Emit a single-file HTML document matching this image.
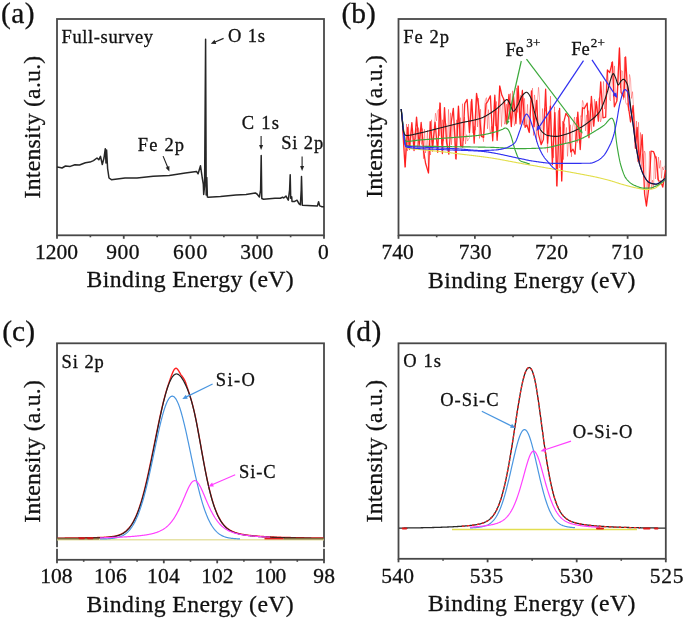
<!DOCTYPE html>
<html><head><meta charset="utf-8"><style>
html,body{margin:0;padding:0;background:#fff;}
svg{display:block;will-change:transform;}
text{font-family:"Liberation Serif",serif;fill:#111;stroke:#111;stroke-width:0.3px;}
</style></head><body>
<svg width="685" height="620" viewBox="0 0 685 620">
<rect width="685" height="620" fill="#fff"/>
<text x="0.90" y="23.1" font-size="29.5" textLength="33.59" lengthAdjust="spacing">(a)</text>
<text x="341.50" y="23.0" font-size="29.5" textLength="34.29" lengthAdjust="spacing">(b)</text>
<text x="2.20" y="340.9" font-size="29.5" textLength="32.89" lengthAdjust="spacing">(c)</text>
<text x="345.90" y="341.2" font-size="29.5" textLength="35.49" lengthAdjust="spacing">(d)</text>
<text x="86.62" y="287.3" font-size="23.7" textLength="207.12" lengthAdjust="spacing">Binding Energy (eV)</text>
<text x="427.92" y="287.5" font-size="23.7" textLength="207.42" lengthAdjust="spacing">Binding Energy (eV)</text>
<text x="86.62" y="612.0" font-size="23.7" textLength="207.12" lengthAdjust="spacing">Binding Energy (eV)</text>
<text x="427.92" y="611.3" font-size="23.7" textLength="207.42" lengthAdjust="spacing">Binding Energy (eV)</text>
<text x="0" y="0" font-size="23.7" textLength="142.70" lengthAdjust="spacing" transform="translate(40.2,198.46) rotate(-90)">Intensity (a.u.)</text>
<text x="0" y="0" font-size="23.7" textLength="142.70" lengthAdjust="spacing" transform="translate(381.6,197.86) rotate(-90)">Intensity (a.u.)</text>
<text x="0" y="0" font-size="23.7" textLength="142.70" lengthAdjust="spacing" transform="translate(40.2,522.76) rotate(-90)">Intensity (a.u.)</text>
<text x="0" y="0" font-size="23.7" textLength="142.50" lengthAdjust="spacing" transform="translate(381.6,522.46) rotate(-90)">Intensity (a.u.)</text>
<rect x="57" y="19" width="267" height="216.3" fill="none" stroke="#484848" stroke-width="1.8"/>
<line x1="57.0" y1="235.3" x2="57.0" y2="238.8" stroke="#484848" stroke-width="1.8"/>
<line x1="123.75" y1="235.3" x2="123.75" y2="238.8" stroke="#484848" stroke-width="1.8"/>
<line x1="190.5" y1="235.3" x2="190.5" y2="238.8" stroke="#484848" stroke-width="1.8"/>
<line x1="257.25" y1="235.3" x2="257.25" y2="238.8" stroke="#484848" stroke-width="1.8"/>
<line x1="324.0" y1="235.3" x2="324.0" y2="238.8" stroke="#484848" stroke-width="1.8"/>
<line x1="90.375" y1="235.3" x2="90.375" y2="237.3" stroke="#484848" stroke-width="1.62"/>
<line x1="157.125" y1="235.3" x2="157.125" y2="237.3" stroke="#484848" stroke-width="1.62"/>
<line x1="223.875" y1="235.3" x2="223.875" y2="237.3" stroke="#484848" stroke-width="1.62"/>
<line x1="290.625" y1="235.3" x2="290.625" y2="237.3" stroke="#484848" stroke-width="1.62"/>
<text x="34.91" y="259.0" font-size="21.5" textLength="43.11" lengthAdjust="spacing">1200</text>
<text x="106.21" y="259.0" font-size="21.5" textLength="33.41" lengthAdjust="spacing">900</text>
<text x="173.08" y="259.0" font-size="21.5" textLength="34.24" lengthAdjust="spacing">600</text>
<text x="240.27" y="259.0" font-size="21.5" textLength="33.05" lengthAdjust="spacing">300</text>
<text x="318.08" y="259.0" font-size="21.5" textLength="12.24" lengthAdjust="spacing">0</text>
<rect x="398.5" y="19" width="267.29999999999995" height="216.3" fill="none" stroke="#484848" stroke-width="1.8"/>
<line x1="398.5" y1="235.3" x2="398.5" y2="238.8" stroke="#484848" stroke-width="1.8"/>
<line x1="474.87142857142857" y1="235.3" x2="474.87142857142857" y2="238.8" stroke="#484848" stroke-width="1.8"/>
<line x1="551.2428571428571" y1="235.3" x2="551.2428571428571" y2="238.8" stroke="#484848" stroke-width="1.8"/>
<line x1="627.6142857142856" y1="235.3" x2="627.6142857142856" y2="238.8" stroke="#484848" stroke-width="1.8"/>
<line x1="436.68571428571425" y1="235.3" x2="436.68571428571425" y2="237.3" stroke="#484848" stroke-width="1.62"/>
<line x1="513.0571428571428" y1="235.3" x2="513.0571428571428" y2="237.3" stroke="#484848" stroke-width="1.62"/>
<line x1="589.4285714285713" y1="235.3" x2="589.4285714285713" y2="237.3" stroke="#484848" stroke-width="1.62"/>
<text x="381.58" y="259.0" font-size="21.5" textLength="32.14" lengthAdjust="spacing">740</text>
<text x="458.68" y="259.0" font-size="21.5" textLength="32.94" lengthAdjust="spacing">730</text>
<text x="535.08" y="259.0" font-size="21.5" textLength="33.04" lengthAdjust="spacing">720</text>
<text x="611.28" y="259.0" font-size="21.5" textLength="32.14" lengthAdjust="spacing">710</text>
<rect x="57" y="343.3" width="267" height="216.49999999999994" fill="none" stroke="#484848" stroke-width="1.8"/>
<line x1="57.0" y1="559.8" x2="57.0" y2="563.3" stroke="#484848" stroke-width="1.8"/>
<line x1="110.4" y1="559.8" x2="110.4" y2="563.3" stroke="#484848" stroke-width="1.8"/>
<line x1="163.8" y1="559.8" x2="163.8" y2="563.3" stroke="#484848" stroke-width="1.8"/>
<line x1="217.2" y1="559.8" x2="217.2" y2="563.3" stroke="#484848" stroke-width="1.8"/>
<line x1="270.6" y1="559.8" x2="270.6" y2="563.3" stroke="#484848" stroke-width="1.8"/>
<line x1="324.0" y1="559.8" x2="324.0" y2="563.3" stroke="#484848" stroke-width="1.8"/>
<line x1="83.7" y1="559.8" x2="83.7" y2="561.8" stroke="#484848" stroke-width="1.62"/>
<line x1="137.1" y1="559.8" x2="137.1" y2="561.8" stroke="#484848" stroke-width="1.62"/>
<line x1="190.5" y1="559.8" x2="190.5" y2="561.8" stroke="#484848" stroke-width="1.62"/>
<line x1="243.89999999999998" y1="559.8" x2="243.89999999999998" y2="561.8" stroke="#484848" stroke-width="1.62"/>
<line x1="297.3" y1="559.8" x2="297.3" y2="561.8" stroke="#484848" stroke-width="1.62"/>
<text x="40.31" y="583.2" font-size="21.5" textLength="32.21" lengthAdjust="spacing">108</text>
<text x="93.91" y="583.2" font-size="21.5" textLength="32.73" lengthAdjust="spacing">106</text>
<text x="147.01" y="583.2" font-size="21.5" textLength="32.73" lengthAdjust="spacing">104</text>
<text x="201.31" y="583.2" font-size="21.5" textLength="32.28" lengthAdjust="spacing">102</text>
<text x="254.81" y="583.2" font-size="21.5" textLength="31.51" lengthAdjust="spacing">100</text>
<text x="313.21" y="583.2" font-size="21.5" textLength="21.81" lengthAdjust="spacing">98</text>
<rect x="398.5" y="343.3" width="267.29999999999995" height="215.49999999999994" fill="none" stroke="#484848" stroke-width="1.8"/>
<line x1="398.5" y1="558.8" x2="398.5" y2="562.3" stroke="#484848" stroke-width="1.8"/>
<line x1="487.59999999999997" y1="558.8" x2="487.59999999999997" y2="562.3" stroke="#484848" stroke-width="1.8"/>
<line x1="576.6999999999999" y1="558.8" x2="576.6999999999999" y2="562.3" stroke="#484848" stroke-width="1.8"/>
<line x1="665.8" y1="558.8" x2="665.8" y2="562.3" stroke="#484848" stroke-width="1.8"/>
<line x1="443.05" y1="558.8" x2="443.05" y2="560.8" stroke="#484848" stroke-width="1.62"/>
<line x1="532.15" y1="558.8" x2="532.15" y2="560.8" stroke="#484848" stroke-width="1.62"/>
<line x1="621.25" y1="558.8" x2="621.25" y2="560.8" stroke="#484848" stroke-width="1.62"/>
<text x="381.25" y="582.5" font-size="21.5" textLength="32.77" lengthAdjust="spacing">540</text>
<text x="469.65" y="582.5" font-size="21.5" textLength="33.49" lengthAdjust="spacing">535</text>
<text x="559.65" y="582.5" font-size="21.5" textLength="33.27" lengthAdjust="spacing">530</text>
<text x="649.65" y="582.5" font-size="21.5" textLength="33.79" lengthAdjust="spacing">525</text>
<polyline points="57.00,167.10 60.00,167.50 62.00,168.00 65.50,166.00 70.20,166.40 74.90,164.80 79.50,165.00 85.40,162.70 90.00,162.10 93.50,160.60 97.00,158.00 98.80,159.80 100.50,156.30 102.30,164.50 104.00,158.00 105.30,148.70 106.00,163.00 106.60,150.00 107.60,168.50 109.00,178.00 111.40,179.70 125.00,178.00 137.00,178.10 153.20,176.20 169.20,175.40 185.30,173.00 196.50,171.40 198.10,173.80 200.50,165.80 202.20,177.50 203.30,184.00 203.70,194.50 204.60,186.00 205.60,39.30 206.20,195.00 206.80,177.60 207.40,197.00 208.30,197.20 220.50,196.50 235.90,195.00 246.00,194.50 255.30,192.90 257.00,194.00 259.40,197.00 260.60,190.00 261.20,155.60 261.80,198.50 263.50,199.30 275.00,198.30 280.30,198.30 282.60,197.20 283.70,198.00 286.00,196.10 288.30,200.20 289.60,190.00 290.20,174.80 290.70,198.30 291.70,196.80 292.00,201.40 294.70,201.40 297.00,200.20 299.20,204.00 300.40,204.80 301.20,190.00 301.50,176.40 302.30,205.20 317.40,205.90 318.60,201.70 319.70,205.90 322.00,206.70 324.00,206.70" fill="none" stroke="#262626" stroke-width="1.5" stroke-linejoin="round"/>
<text x="61.57" y="43.3" font-size="18.5" textLength="91.41" lengthAdjust="spacing">Full-survey</text>
<text x="228.04" y="41.5" font-size="18.5" textLength="36.93" lengthAdjust="spacing">O 1s</text>
<line x1="223.6" y1="38.4" x2="214.49" y2="42.25" stroke="#222" stroke-width="1.2"/>
<polygon points="210.80,43.80 214.55,39.83 216.26,43.88" fill="#222"/>
<text x="137.77" y="150.5" font-size="18.5" textLength="46.26" lengthAdjust="spacing">Fe 2p</text>
<line x1="163.1" y1="156.1" x2="167.89" y2="167.80" stroke="#222" stroke-width="1.1"/>
<polygon points="169.40,171.50 165.66,167.63 169.36,166.11" fill="#222"/>
<text x="241.64" y="129.2" font-size="18.5" textLength="37.43" lengthAdjust="spacing">C 1s</text>
<line x1="261.1" y1="136.1" x2="261.10" y2="146.00" stroke="#222" stroke-width="1.1"/>
<polygon points="261.10,150.00 259.10,145.00 263.10,145.00" fill="#222"/>
<text x="281.16" y="148.5" font-size="18.5" textLength="42.06" lengthAdjust="spacing">Si 2p</text>
<line x1="302.1" y1="156.5" x2="302.10" y2="167.00" stroke="#222" stroke-width="1.1"/>
<polygon points="302.10,171.00 300.10,166.00 304.10,166.00" fill="#222"/>
<g fill="none" stroke-linejoin="round">
<polyline points="401.50,109.00 402.50,125.00 403.50,135.47 404.50,133.80 405.50,167.00 406.50,123.97 407.50,151.05 408.50,124.04 409.50,150.11 410.50,146.59 411.50,129.73 412.50,128.35 413.50,148.01 414.50,139.40 415.50,139.07 416.50,128.55 417.50,148.18 418.50,127.64 419.50,143.91 420.50,129.19 421.50,144.57 422.50,128.51 423.50,158.74 424.50,129.24 425.50,153.00 426.50,145.98 427.50,130.24 428.50,173.00 429.50,143.02 430.50,155.04 431.50,119.74 432.50,151.89 433.50,139.67 434.50,123.35 435.50,113.19 436.50,120.89 437.50,111.04 438.50,109.33 439.50,135.90 440.50,103.00 441.50,144.40 442.50,119.76 443.50,141.13 444.50,120.40 445.50,122.71 446.50,125.49 447.50,148.78 448.50,109.37 449.50,138.22 450.50,112.77 451.50,144.79 452.50,125.34 453.50,124.35 454.50,142.48 455.50,159.00 456.50,119.77 457.50,136.48 458.50,106.37 459.50,138.24 460.50,117.64 461.50,146.25 462.50,103.71 463.50,141.11 464.50,117.09 465.50,143.94 466.50,134.69 467.50,141.04 468.50,139.32 469.50,137.54 470.50,101.96 471.50,100.39 472.50,132.84 473.50,132.98 474.50,126.29 475.50,130.22 476.50,95.71 477.50,126.99 478.50,98.14 479.50,138.46 480.50,109.20 481.50,137.20 482.50,134.72 483.50,141.72 484.50,106.49 485.50,99.35 486.50,97.66 487.50,128.84 488.50,109.63 489.50,128.50 490.50,133.56 491.50,126.28 492.50,137.55 493.50,126.30 494.50,97.24 495.50,126.18 496.50,101.48 497.50,137.21 498.50,128.48 499.50,86.00 500.50,102.58 501.50,126.70 502.50,106.39 503.50,98.97 504.50,124.20 505.50,121.02 506.50,104.18 507.50,120.35 508.50,102.17 509.50,119.35 510.50,93.44 511.50,127.18 512.50,90.78 513.50,118.13 514.50,125.60 515.50,119.68 516.50,87.90 517.50,112.41 518.50,86.00 519.50,118.22 520.50,95.32 521.50,122.49 522.50,89.70 523.50,125.34 524.50,98.32 525.50,118.84 526.50,123.98 527.50,104.33 528.50,131.37 529.50,127.92 530.50,100.17 531.50,95.97 532.50,88.14 533.50,135.51 534.50,94.90 535.50,104.12 536.50,141.86 537.50,100.53 538.50,87.32 539.50,97.76 540.50,136.74 541.50,143.60 542.50,108.52 543.50,130.17 544.50,108.23 545.50,111.28 546.50,107.00 547.50,152.54 548.50,111.59 549.50,135.77 550.50,96.06 551.50,148.28 552.50,149.70 553.50,157.81 554.50,106.81 555.50,149.64 556.50,186.00 557.50,122.54 558.50,110.40 559.50,168.05 560.50,126.91 561.50,181.00 562.50,121.11 563.50,159.58 564.50,123.65 565.50,144.02 566.50,127.44 567.50,156.37 568.50,142.16 569.50,143.85 570.50,124.75 571.50,156.85 572.50,127.17 573.50,123.50 574.50,117.02 575.50,141.05 576.50,117.06 577.50,142.52 578.50,123.06 579.50,143.32 580.50,115.74 581.50,116.53 582.50,100.39 583.50,103.04 584.50,110.27 585.50,130.88 586.50,114.85 587.50,135.86 588.50,110.62 589.50,129.77 590.50,103.72 591.50,131.74 592.50,109.31 593.50,120.15 594.50,99.17 595.50,117.54 596.50,101.10 597.50,113.92 598.50,99.34 599.50,97.37 600.50,121.96 601.50,118.58 602.50,107.81 603.50,81.39 604.50,109.08 605.50,100.92 606.50,80.94 607.50,70.00 608.50,82.85 609.50,99.56 610.50,100.76 611.50,62.00 612.50,65.59 613.50,97.12 614.50,65.92 615.50,96.57 616.50,100.52 617.50,96.19 618.50,65.21 619.50,48.00 620.50,87.95 621.50,70.60 622.50,71.21 623.50,99.58 624.50,57.00 625.50,101.94 626.50,104.29 627.50,103.45 628.50,110.89 629.50,74.48 630.50,79.09 631.50,98.48 632.50,91.67 633.50,106.55 634.50,116.83 635.50,142.67 636.50,121.07 637.50,161.73 638.50,122.25 639.50,163.03 640.50,132.46 641.50,170.74 642.50,153.62 643.50,177.24 644.50,150.93 645.50,153.74 646.50,206.00 647.50,180.55 648.50,190.84 649.50,151.23 650.50,165.61 651.50,189.26 652.50,180.13 653.50,188.77 654.50,153.15 655.50,178.90 656.50,156.35 657.50,179.76 658.50,157.00 659.50,168.30 660.50,160.40 661.50,178.33 662.50,166.91 663.50,170.03 664.50,165.81" stroke="#ff1010" stroke-width="1.0" opacity="0.35"/>
<polyline points="402.54,126.31 405.03,167.00 407.68,127.52 409.42,148.89 411.86,122.67 414.04,150.56 416.54,117.15 419.13,145.84 421.15,122.51 423.67,151.18 425.56,163.26 428.49,173.00 430.21,121.65 432.54,147.56 435.10,122.20 437.69,152.28 439.91,103.00 442.38,153.48 444.51,107.56 446.51,142.13 448.83,154.21 451.37,121.05 453.32,108.34 456.08,159.00 458.43,106.07 460.61,145.67 462.71,147.05 464.73,103.61 467.14,99.45 469.43,132.45 471.76,99.36 474.17,143.12 476.54,93.36 478.57,105.57 481.34,136.17 483.58,137.39 485.98,103.95 487.81,101.29 490.39,95.83 492.72,140.73 494.81,95.27 497.13,140.29 499.75,86.00 501.88,95.32 504.42,100.50 506.39,123.85 508.96,94.48 511.29,126.45 513.53,96.41 515.91,123.51 518.06,86.00 520.16,124.05 522.34,90.74 525.06,127.31 526.81,124.79 529.32,132.48 531.48,90.88 534.07,126.65 536.61,100.50 538.46,134.04 541.14,144.66 543.44,139.49 545.63,89.26 547.60,143.12 550.36,106.27 552.37,164.67 554.89,112.63 556.97,186.00 559.59,108.30 561.76,181.00 563.63,122.55 565.94,113.32 568.78,117.34 570.69,151.96 573.00,149.26 575.03,154.20 577.81,112.14 580.24,149.56 582.62,107.74 584.36,108.48 587.19,103.06 588.94,137.69 591.40,96.39 593.71,126.14 596.16,101.73 598.41,121.17 600.72,81.91 603.02,117.77 605.65,117.11 607.40,70.00 609.67,72.57 612.45,62.00 614.34,106.84 616.94,100.73 619.44,48.00 621.06,92.32 623.93,97.22 625.63,57.00 628.31,105.41 630.55,121.90 633.05,105.65 635.42,148.30 637.14,127.37 639.46,163.61 642.18,134.74 644.57,193.99 646.42,206.00 649.09,186.15 651.02,151.12 653.57,151.68 656.28,159.39 658.47,180.94 660.65,181.18 662.77,187.07 665.43,170.00" stroke="#ff1010" stroke-width="1.3" opacity="0.9"/>
<polyline points="401.20,109.00 401.70,113.67 402.20,118.19 402.70,122.56 403.20,126.76 403.70,130.82 404.20,135.38 404.70,140.13 405.20,144.25 405.70,146.93 406.20,147.57 406.70,147.74 407.20,147.89 407.70,148.04 408.20,148.16 408.70,148.28 409.20,148.39 409.70,148.49 410.20,148.57 410.70,148.65 411.20,148.72 411.70,148.79 412.20,148.84 412.70,148.90 413.20,148.94 413.70,148.99 414.20,149.03 414.70,149.07 415.20,149.10 415.70,149.14 416.20,149.17 416.70,149.21 417.20,149.24 417.70,149.28 418.20,149.32 418.70,149.36 419.20,149.41 419.70,149.47 420.20,149.52 420.70,149.58 421.20,149.64 421.70,149.70 422.20,149.75 422.70,149.80 423.20,149.86 423.70,149.91 424.20,149.96 424.70,150.01 425.20,150.06 425.70,150.11 426.20,150.16 426.70,150.21 427.20,150.26 427.70,150.30 428.20,150.35 428.70,150.40 429.20,150.45 429.70,150.49 430.20,150.54 430.70,150.58 431.20,150.63 431.70,150.68 432.20,150.72 432.70,150.77 433.20,150.82 433.70,150.86 434.20,150.91 434.70,150.96 435.20,151.01 435.70,151.05 436.20,151.10 436.70,151.15 437.20,151.20 437.70,151.25 438.20,151.31 438.70,151.36 439.20,151.41 439.70,151.47 440.20,151.52 440.70,151.58 441.20,151.64 441.70,151.69 442.20,151.75 442.70,151.81 443.20,151.87 443.70,151.93 444.20,151.99 444.70,152.05 445.20,152.11 445.70,152.17 446.20,152.23 446.70,152.30 447.20,152.36 447.70,152.42 448.20,152.48 448.70,152.55 449.20,152.61 449.70,152.67 450.20,152.74 450.70,152.80 451.20,152.87 451.70,152.93 452.20,153.00 452.70,153.06 453.20,153.13 453.70,153.19 454.20,153.26 454.70,153.32 455.20,153.39 455.70,153.45 456.20,153.51 456.70,153.58 457.20,153.64 457.70,153.71 458.20,153.77 458.70,153.84 459.20,153.90 459.70,153.96 460.20,154.03 460.70,154.09 461.20,154.15 461.70,154.21 462.20,154.27 462.70,154.34 463.20,154.40 463.70,154.46 464.20,154.52 464.70,154.58 465.20,154.64 465.70,154.70 466.20,154.76 466.70,154.82 467.20,154.88 467.70,154.94 468.20,155.00 468.70,155.06 469.20,155.12 469.70,155.18 470.20,155.24 470.70,155.30 471.20,155.36 471.70,155.42 472.20,155.48 472.70,155.54 473.20,155.60 473.70,155.66 474.20,155.72 474.70,155.78 475.20,155.84 475.70,155.90 476.20,155.96 476.70,156.02 477.20,156.08 477.70,156.15 478.20,156.21 478.70,156.27 479.20,156.33 479.70,156.40 480.20,156.46 480.70,156.52 481.20,156.59 481.70,156.65 482.20,156.72 482.70,156.78 483.20,156.85 483.70,156.91 484.20,156.98 484.70,157.05 485.20,157.12 485.70,157.19 486.20,157.25 486.70,157.32 487.20,157.39 487.70,157.47 488.20,157.54 488.70,157.61 489.20,157.68 489.70,157.76 490.20,157.83 490.70,157.91 491.20,157.98 491.70,158.06 492.20,158.14 492.70,158.22 493.20,158.30 493.70,158.38 494.20,158.46 494.70,158.54 495.20,158.63 495.70,158.71 496.20,158.79 496.70,158.88 497.20,158.97 497.70,159.05 498.20,159.14 498.70,159.23 499.20,159.32 499.70,159.41 500.20,159.50 500.70,159.59 501.20,159.68 501.70,159.77 502.20,159.86 502.70,159.96 503.20,160.05 503.70,160.14 504.20,160.24 504.70,160.33 505.20,160.42 505.70,160.52 506.20,160.61 506.70,160.71 507.20,160.80 507.70,160.90 508.20,160.99 508.70,161.09 509.20,161.18 509.70,161.28 510.20,161.37 510.70,161.47 511.20,161.56 511.70,161.66 512.20,161.75 512.70,161.85 513.20,161.94 513.70,162.04 514.20,162.13 514.70,162.23 515.20,162.32 515.70,162.41 516.20,162.51 516.70,162.60 517.20,162.69 517.70,162.78 518.20,162.87 518.70,162.97 519.20,163.06 519.70,163.15 520.20,163.24 520.70,163.33 521.20,163.41 521.70,163.50 522.20,163.59 522.70,163.68 523.20,163.77 523.70,163.86 524.20,163.95 524.70,164.04 525.20,164.13 525.70,164.22 526.20,164.30 526.70,164.39 527.20,164.48 527.70,164.57 528.20,164.66 528.70,164.75 529.20,164.84 529.70,164.92 530.20,165.01 530.70,165.10 531.20,165.19 531.70,165.28 532.20,165.37 532.70,165.46 533.20,165.54 533.70,165.63 534.20,165.72 534.70,165.81 535.20,165.90 535.70,165.99 536.20,166.07 536.70,166.16 537.20,166.25 537.70,166.34 538.20,166.43 538.70,166.52 539.20,166.60 539.70,166.69 540.20,166.78 540.70,166.87 541.20,166.96 541.70,167.05 542.20,167.14 542.70,167.22 543.20,167.31 543.70,167.40 544.20,167.49 544.70,167.58 545.20,167.67 545.70,167.76 546.20,167.85 546.70,167.93 547.20,168.02 547.70,168.11 548.20,168.20 548.70,168.29 549.20,168.38 549.70,168.47 550.20,168.56 550.70,168.65 551.20,168.74 551.70,168.83 552.20,168.92 552.70,169.01 553.20,169.10 553.70,169.19 554.20,169.28 554.70,169.37 555.20,169.46 555.70,169.55 556.20,169.64 556.70,169.73 557.20,169.82 557.70,169.91 558.20,170.00 558.70,170.09 559.20,170.18 559.70,170.27 560.20,170.36 560.70,170.45 561.20,170.54 561.70,170.63 562.20,170.72 562.70,170.81 563.20,170.90 563.70,170.99 564.20,171.08 564.70,171.17 565.20,171.26 565.70,171.35 566.20,171.44 566.70,171.53 567.20,171.62 567.70,171.71 568.20,171.80 568.70,171.89 569.20,171.98 569.70,172.07 570.20,172.16 570.70,172.25 571.20,172.34 571.70,172.43 572.20,172.52 572.70,172.61 573.20,172.71 573.70,172.80 574.20,172.89 574.70,172.98 575.20,173.07 575.70,173.16 576.20,173.26 576.70,173.35 577.20,173.44 577.70,173.53 578.20,173.63 578.70,173.72 579.20,173.81 579.70,173.91 580.20,174.00 580.70,174.09 581.20,174.19 581.70,174.28 582.20,174.38 582.70,174.47 583.20,174.56 583.70,174.66 584.20,174.75 584.70,174.85 585.20,174.95 585.70,175.04 586.20,175.14 586.70,175.23 587.20,175.33 587.70,175.43 588.20,175.52 588.70,175.62 589.20,175.72 589.70,175.81 590.20,175.91 590.70,176.01 591.20,176.10 591.70,176.20 592.20,176.30 592.70,176.40 593.20,176.51 593.70,176.61 594.20,176.71 594.70,176.82 595.20,176.93 595.70,177.03 596.20,177.14 596.70,177.26 597.20,177.37 597.70,177.48 598.20,177.59 598.70,177.71 599.20,177.83 599.70,177.94 600.20,178.06 600.70,178.18 601.20,178.30 601.70,178.42 602.20,178.55 602.70,178.67 603.20,178.79 603.70,178.92 604.20,179.05 604.70,179.17 605.20,179.30 605.70,179.43 606.20,179.56 606.70,179.69 607.20,179.83 607.70,179.96 608.20,180.09 608.70,180.23 609.20,180.36 609.70,180.50 610.20,180.64 610.70,180.78 611.20,180.93 611.70,181.07 612.20,181.22 612.70,181.38 613.20,181.53 613.70,181.69 614.20,181.85 614.70,182.01 615.20,182.17 615.70,182.33 616.20,182.49 616.70,182.65 617.20,182.81 617.70,182.97 618.20,183.13 618.70,183.29 619.20,183.45 619.70,183.61 620.20,183.76 620.70,183.91 621.20,184.07 621.70,184.21 622.20,184.36 622.70,184.50 623.20,184.64 623.70,184.78 624.20,184.92 624.70,185.06 625.20,185.19 625.70,185.33 626.20,185.47 626.70,185.60 627.20,185.74 627.70,185.87 628.20,186.01 628.70,186.14 629.20,186.27 629.70,186.40 630.20,186.53 630.70,186.66 631.20,186.79 631.70,186.91 632.20,187.03 632.70,187.15 633.20,187.27 633.70,187.39 634.20,187.50 634.70,187.61 635.20,187.72 635.70,187.82 636.20,187.92 636.70,188.02 637.20,188.12 637.70,188.22 638.20,188.32 638.70,188.42 639.20,188.53 639.70,188.64 640.20,188.74 640.70,188.84 641.20,188.94 641.70,189.04 642.20,189.13 642.70,189.21 643.20,189.29 643.70,189.35 644.20,189.41 644.70,189.45 645.20,189.48 645.70,189.50 646.20,189.50 646.70,189.49 647.20,189.47 647.70,189.45 648.20,189.41 648.70,189.37 649.20,189.32 649.70,189.26 650.20,189.19 650.70,189.12 651.20,189.04 651.70,188.95 652.20,188.86 652.70,188.77 653.20,188.67 653.70,188.56 654.20,188.45 654.70,188.29 655.20,188.08 655.70,187.82 656.20,187.52 656.70,187.18 657.20,186.81 657.70,186.43 658.20,186.02 658.70,185.60 659.20,185.18 659.70,184.75 660.20,184.33 660.70,183.88 661.20,183.41 661.70,182.90 662.20,182.37 662.70,181.81 663.20,181.23 663.70,180.64 664.20,180.02 664.70,179.39" stroke="#e2de48" stroke-width="1.1"/>
<polyline points="401.20,109.00 401.70,113.39 402.20,117.96 402.70,122.54 403.20,126.97 403.70,131.09 404.20,134.73 404.70,137.74 405.20,139.94 405.70,141.19 406.20,141.40 406.70,141.39 407.20,141.38 407.70,141.36 408.20,141.33 408.70,141.30 409.20,141.26 409.70,141.22 410.20,141.17 410.70,141.12 411.20,141.07 411.70,141.01 412.20,140.95 412.70,140.89 413.20,140.83 413.70,140.76 414.20,140.69 414.70,140.63 415.20,140.56 415.70,140.49 416.20,140.43 416.70,140.36 417.20,140.30 417.70,140.24 418.20,140.18 418.70,140.13 419.20,140.07 419.70,140.03 420.20,139.98 420.70,139.94 421.20,139.90 421.70,139.86 422.20,139.82 422.70,139.77 423.20,139.73 423.70,139.69 424.20,139.66 424.70,139.62 425.20,139.58 425.70,139.54 426.20,139.50 426.70,139.46 427.20,139.43 427.70,139.39 428.20,139.35 428.70,139.32 429.20,139.28 429.70,139.24 430.20,139.21 430.70,139.17 431.20,139.14 431.70,139.10 432.20,139.06 432.70,139.03 433.20,138.99 433.70,138.96 434.20,138.92 434.70,138.89 435.20,138.85 435.70,138.81 436.20,138.78 436.70,138.74 437.20,138.71 437.70,138.67 438.20,138.63 438.70,138.60 439.20,138.56 439.70,138.52 440.20,138.49 440.70,138.45 441.20,138.41 441.70,138.37 442.20,138.34 442.70,138.30 443.20,138.26 443.70,138.23 444.20,138.19 444.70,138.15 445.20,138.12 445.70,138.08 446.20,138.04 446.70,138.01 447.20,137.97 447.70,137.93 448.20,137.90 448.70,137.86 449.20,137.83 449.70,137.79 450.20,137.75 450.70,137.72 451.20,137.68 451.70,137.64 452.20,137.60 452.70,137.57 453.20,137.53 453.70,137.49 454.20,137.45 454.70,137.42 455.20,137.38 455.70,137.34 456.20,137.30 456.70,137.26 457.20,137.22 457.70,137.18 458.20,137.15 458.70,137.11 459.20,137.07 459.70,137.02 460.20,136.98 460.70,136.94 461.20,136.90 461.70,136.86 462.20,136.82 462.70,136.79 463.20,136.75 463.70,136.71 464.20,136.67 464.70,136.63 465.20,136.59 465.70,136.56 466.20,136.52 466.70,136.48 467.20,136.44 467.70,136.40 468.20,136.36 468.70,136.32 469.20,136.28 469.70,136.24 470.20,136.20 470.70,136.16 471.20,136.12 471.70,136.07 472.20,136.03 472.70,135.99 473.20,135.94 473.70,135.89 474.20,135.85 474.70,135.80 475.20,135.75 475.70,135.70 476.20,135.64 476.70,135.59 477.20,135.54 477.70,135.48 478.20,135.42 478.70,135.36 479.20,135.30 479.70,135.24 480.20,135.17 480.70,135.11 481.20,135.04 481.70,134.96 482.20,134.88 482.70,134.80 483.20,134.72 483.70,134.63 484.20,134.54 484.70,134.45 485.20,134.35 485.70,134.25 486.20,134.15 486.70,134.05 487.20,133.94 487.70,133.83 488.20,133.72 488.70,133.61 489.20,133.49 489.70,133.37 490.20,133.25 490.70,133.13 491.20,133.00 491.70,132.88 492.20,132.75 492.70,132.62 493.20,132.49 493.70,132.35 494.20,132.22 494.70,132.08 495.20,131.94 495.70,131.80 496.20,131.64 496.70,131.48 497.20,131.32 497.70,131.14 498.20,130.96 498.70,130.78 499.20,130.59 499.70,130.40 500.20,130.21 500.70,130.01 501.20,129.82 501.70,129.62 502.20,129.42 502.70,129.17 503.20,128.89 503.70,128.61 504.20,128.35 504.70,128.14 505.20,128.02 505.70,128.01 506.20,128.16 506.70,128.43 507.20,128.80 507.70,129.23 508.20,129.71 508.70,130.45 509.20,131.43 509.70,132.59 510.20,133.87 510.70,135.20 511.20,136.55 511.70,138.09 512.20,139.83 512.70,141.69 513.20,143.59 513.70,145.47 514.20,147.24 514.70,148.85 515.20,150.24 515.70,151.60 516.20,152.97 516.70,154.32 517.20,155.62 517.70,156.83 518.20,157.93 518.70,158.88 519.20,159.67 519.70,160.26 520.20,160.63 520.70,160.93 521.20,161.19 521.70,161.41 522.20,161.62 522.70,161.80 523.20,161.96 523.70,162.11 524.20,162.26 524.70,162.40 525.20,162.55 525.70,162.70 526.20,162.87 526.70,163.03 527.20,163.19 527.70,163.34 528.20,163.49 528.70,163.64 529.20,163.78 529.70,163.92" stroke="#3aa83a" stroke-width="1.15"/>
<polyline points="401.20,109.00 401.70,113.56 402.20,118.49 402.70,123.58 403.20,128.62 403.70,133.39 404.20,137.67 404.70,141.24 405.20,143.90 405.70,145.42 406.20,145.71 406.70,145.74 407.20,145.77 407.70,145.80 408.20,145.83 408.70,145.85 409.20,145.88 409.70,145.90 410.20,145.93 410.70,145.95 411.20,145.97 411.70,145.99 412.20,146.01 412.70,146.03 413.20,146.05 413.70,146.07 414.20,146.08 414.70,146.10 415.20,146.11 415.70,146.13 416.20,146.14 416.70,146.16 417.20,146.17 417.70,146.18 418.20,146.19 418.70,146.21 419.20,146.22 419.70,146.23 420.20,146.24 420.70,146.25 421.20,146.25 421.70,146.26 422.20,146.27 422.70,146.28 423.20,146.29 423.70,146.29 424.20,146.30 424.70,146.31 425.20,146.31 425.70,146.32 426.20,146.33 426.70,146.33 427.20,146.34 427.70,146.34 428.20,146.35 428.70,146.35 429.20,146.36 429.70,146.36 430.20,146.37 430.70,146.37 431.20,146.38 431.70,146.38 432.20,146.39 432.70,146.40 433.20,146.40 433.70,146.41 434.20,146.41 434.70,146.42 435.20,146.42 435.70,146.43 436.20,146.44 436.70,146.45 437.20,146.45 437.70,146.46 438.20,146.47 438.70,146.48 439.20,146.49 439.70,146.49 440.20,146.50 440.70,146.51 441.20,146.52 441.70,146.53 442.20,146.54 442.70,146.55 443.20,146.56 443.70,146.57 444.20,146.58 444.70,146.58 445.20,146.59 445.70,146.60 446.20,146.61 446.70,146.62 447.20,146.63 447.70,146.63 448.20,146.64 448.70,146.65 449.20,146.66 449.70,146.66 450.20,146.67 450.70,146.68 451.20,146.69 451.70,146.69 452.20,146.70 452.70,146.71 453.20,146.71 453.70,146.72 454.20,146.73 454.70,146.73 455.20,146.74 455.70,146.75 456.20,146.75 456.70,146.76 457.20,146.77 457.70,146.77 458.20,146.78 458.70,146.79 459.20,146.79 459.70,146.80 460.20,146.81 460.70,146.81 461.20,146.82 461.70,146.83 462.20,146.83 462.70,146.84 463.20,146.85 463.70,146.85 464.20,146.86 464.70,146.86 465.20,146.87 465.70,146.88 466.20,146.88 466.70,146.89 467.20,146.90 467.70,146.90 468.20,146.91 468.70,146.92 469.20,146.92 469.70,146.93 470.20,146.94 470.70,146.95 471.20,146.95 471.70,146.96 472.20,146.97 472.70,146.97 473.20,146.98 473.70,146.99 474.20,147.00 474.70,147.00 475.20,147.01 475.70,147.02 476.20,147.03 476.70,147.04 477.20,147.04 477.70,147.05 478.20,147.06 478.70,147.07 479.20,147.08 479.70,147.09 480.20,147.10 480.70,147.10 481.20,147.11 481.70,147.12 482.20,147.13 482.70,147.14 483.20,147.15 483.70,147.16 484.20,147.17 484.70,147.18 485.20,147.19 485.70,147.20 486.20,147.21 486.70,147.22 487.20,147.23 487.70,147.25 488.20,147.26 488.70,147.27 489.20,147.28 489.70,147.29 490.20,147.30 490.70,147.32 491.20,147.33 491.70,147.35 492.20,147.37 492.70,147.38 493.20,147.40 493.70,147.42 494.20,147.44 494.70,147.47 495.20,147.49 495.70,147.51 496.20,147.54 496.70,147.56 497.20,147.59 497.70,147.62 498.20,147.64 498.70,147.67 499.20,147.70 499.70,147.73 500.20,147.76 500.70,147.79 501.20,147.82 501.70,147.84 502.20,147.87 502.70,147.90 503.20,147.93 503.70,147.96 504.20,147.99 504.70,148.02 505.20,148.05 505.70,148.08 506.20,148.11 506.70,148.14 507.20,148.17 507.70,148.20 508.20,148.22 508.70,148.25 509.20,148.28 509.70,148.30 510.20,148.33 510.70,148.35 511.20,148.37 511.70,148.40 512.20,148.42 512.70,148.44 513.20,148.46 513.70,148.48 514.20,148.49 514.70,148.51 515.20,148.53 515.70,148.54 516.20,148.55 516.70,148.56 517.20,148.57 517.70,148.58 518.20,148.59 518.70,148.59 519.20,148.60 519.70,148.60 520.20,148.60 520.70,148.60 521.20,148.60 521.70,148.60 522.20,148.59 522.70,148.59 523.20,148.59 523.70,148.58 524.20,148.58 524.70,148.57 525.20,148.57 525.70,148.56 526.20,148.55 526.70,148.55 527.20,148.54 527.70,148.53 528.20,148.52 528.70,148.51 529.20,148.50 529.70,148.49 530.20,148.48 530.70,148.46 531.20,148.45 531.70,148.44 532.20,148.42 532.70,148.41 533.20,148.40 533.70,148.38 534.20,148.37 534.70,148.35 535.20,148.33 535.70,148.32 536.20,148.30 536.70,148.28 537.20,148.26 537.70,148.24 538.20,148.22 538.70,148.20 539.20,148.18 539.70,148.16 540.20,148.14 540.70,148.12 541.20,148.10 541.70,148.08 542.20,148.06 542.70,148.03 543.20,148.01 543.70,147.98 544.20,147.95 544.70,147.91 545.20,147.87 545.70,147.81 546.20,147.75 546.70,147.69 547.20,147.61 547.70,147.54 548.20,147.45 548.70,147.36 549.20,147.27 549.70,147.17 550.20,147.07 550.70,146.97 551.20,146.86 551.70,146.75 552.20,146.63 552.70,146.51 553.20,146.40 553.70,146.27 554.20,146.15 554.70,146.03 555.20,145.90 555.70,145.78 556.20,145.65 556.70,145.52 557.20,145.40 557.70,145.27 558.20,145.15 558.70,145.02 559.20,144.90 559.70,144.78 560.20,144.66 560.70,144.55 561.20,144.43 561.70,144.32 562.20,144.21 562.70,144.09 563.20,143.98 563.70,143.87 564.20,143.76 564.70,143.64 565.20,143.53 565.70,143.41 566.20,143.30 566.70,143.18 567.20,143.07 567.70,142.95 568.20,142.83 568.70,142.71 569.20,142.59 569.70,142.46 570.20,142.34 570.70,142.21 571.20,142.08 571.70,141.95 572.20,141.81 572.70,141.67 573.20,141.54 573.70,141.39 574.20,141.25 574.70,141.10 575.20,140.95 575.70,140.79 576.20,140.64 576.70,140.48 577.20,140.31 577.70,140.14 578.20,139.97 578.70,139.79 579.20,139.61 579.70,139.41 580.20,139.21 580.70,139.00 581.20,138.79 581.70,138.57 582.20,138.34 582.70,138.10 583.20,137.86 583.70,137.61 584.20,137.36 584.70,137.10 585.20,136.84 585.70,136.57 586.20,136.30 586.70,136.02 587.20,135.74 587.70,135.46 588.20,135.17 588.70,134.88 589.20,134.59 589.70,134.29 590.20,134.00 590.70,133.70 591.20,133.40 591.70,133.10 592.20,132.79 592.70,132.49 593.20,132.19 593.70,131.89 594.20,131.58 594.70,131.28 595.20,130.98 595.70,130.68 596.20,130.38 596.70,130.08 597.20,129.78 597.70,129.48 598.20,129.17 598.70,128.86 599.20,128.55 599.70,128.23 600.20,127.91 600.70,127.58 601.20,127.25 601.70,126.91 602.20,126.56 602.70,126.21 603.20,125.85 603.70,125.48 604.20,125.10 604.70,124.68 605.20,124.20 605.70,123.66 606.20,123.09 606.70,122.49 607.20,121.88 607.70,121.28 608.20,120.69 608.70,120.13 609.20,119.62 609.70,119.17 610.20,118.79 610.70,118.49 611.20,118.29 611.70,118.20 612.20,118.34 612.70,118.90 613.20,119.84 613.70,121.10 614.20,122.65 614.70,124.79 615.20,129.76 615.70,135.53 616.20,139.78 616.70,143.46 617.20,146.83 617.70,149.93 618.20,152.82 618.70,155.60 619.20,158.25 619.70,160.70 620.20,162.90 620.70,164.80 621.20,166.50 621.70,168.14 622.20,169.70 622.70,171.19 623.20,172.58 623.70,173.88 624.20,175.08 624.70,176.16 625.20,177.11 625.70,177.94 626.20,178.63 626.70,179.25 627.20,179.84 627.70,180.39 628.20,180.92 628.70,181.42 629.20,181.89 629.70,182.33 630.20,182.74 630.70,183.13 631.20,183.50 631.70,183.84 632.20,184.15 632.70,184.45 633.20,184.72 633.70,184.98 634.20,185.21 634.70,185.43 635.20,185.65 635.70,185.86 636.20,186.08 636.70,186.28 637.20,186.49 637.70,186.68 638.20,186.87 638.70,187.05 639.20,187.22 639.70,187.38 640.20,187.53 640.70,187.66 641.20,187.78 641.70,187.88 642.20,187.96 642.70,188.03 643.20,188.07 643.70,188.10 644.20,188.10 644.70,188.10 645.20,188.10 645.70,188.09 646.20,188.09 646.70,188.08 647.20,188.07 647.70,188.06 648.20,188.05 648.70,188.04 649.20,188.02 649.70,188.01 650.20,187.99 650.70,187.94 651.20,187.85 651.70,187.73 652.20,187.58 652.70,187.41 653.20,187.22 653.70,187.02 654.20,186.80 654.70,186.58 655.20,186.36 655.70,186.13 656.20,185.91 656.70,185.68 657.20,185.44 657.70,185.18 658.20,184.91 658.70,184.62 659.20,184.32 659.70,184.01 660.20,183.69 660.70,183.35 661.20,183.00 661.70,182.64 662.20,182.27 662.70,181.89 663.20,181.50 663.70,181.09 664.20,180.68 664.70,180.26" stroke="#3aa83a" stroke-width="1.15"/>
<polyline points="401.20,109.00 401.70,113.72 402.20,118.75 402.70,123.90 403.20,128.95 403.70,133.71 404.20,137.97 404.70,141.52 405.20,144.17 405.70,145.70 406.20,146.03 406.70,146.11 407.20,146.18 407.70,146.25 408.20,146.31 408.70,146.38 409.20,146.43 409.70,146.49 410.20,146.54 410.70,146.59 411.20,146.64 411.70,146.68 412.20,146.72 412.70,146.76 413.20,146.80 413.70,146.83 414.20,146.87 414.70,146.90 415.20,146.93 415.70,146.95 416.20,146.98 416.70,147.00 417.20,147.03 417.70,147.05 418.20,147.07 418.70,147.09 419.20,147.10 419.70,147.12 420.20,147.14 420.70,147.15 421.20,147.17 421.70,147.19 422.20,147.20 422.70,147.22 423.20,147.23 423.70,147.25 424.20,147.26 424.70,147.28 425.20,147.29 425.70,147.31 426.20,147.33 426.70,147.35 427.20,147.37 427.70,147.39 428.20,147.41 428.70,147.43 429.20,147.46 429.70,147.48 430.20,147.51 430.70,147.54 431.20,147.57 431.70,147.59 432.20,147.62 432.70,147.65 433.20,147.67 433.70,147.70 434.20,147.72 434.70,147.75 435.20,147.77 435.70,147.80 436.20,147.82 436.70,147.85 437.20,147.87 437.70,147.89 438.20,147.92 438.70,147.94 439.20,147.96 439.70,147.99 440.20,148.01 440.70,148.03 441.20,148.06 441.70,148.08 442.20,148.10 442.70,148.13 443.20,148.15 443.70,148.17 444.20,148.19 444.70,148.22 445.20,148.24 445.70,148.26 446.20,148.29 446.70,148.31 447.20,148.33 447.70,148.36 448.20,148.38 448.70,148.40 449.20,148.43 449.70,148.45 450.20,148.47 450.70,148.50 451.20,148.52 451.70,148.55 452.20,148.57 452.70,148.60 453.20,148.62 453.70,148.65 454.20,148.67 454.70,148.70 455.20,148.73 455.70,148.75 456.20,148.78 456.70,148.81 457.20,148.84 457.70,148.86 458.20,148.89 458.70,148.92 459.20,148.95 459.70,148.98 460.20,149.01 460.70,149.05 461.20,149.08 461.70,149.12 462.20,149.16 462.70,149.20 463.20,149.24 463.70,149.28 464.20,149.33 464.70,149.38 465.20,149.42 465.70,149.47 466.20,149.52 466.70,149.57 467.20,149.62 467.70,149.67 468.20,149.72 468.70,149.77 469.20,149.82 469.70,149.87 470.20,149.92 470.70,149.97 471.20,150.02 471.70,150.06 472.20,150.11 472.70,150.15 473.20,150.19 473.70,150.23 474.20,150.27 474.70,150.30 475.20,150.34 475.70,150.37 476.20,150.39 476.70,150.42 477.20,150.44 477.70,150.46 478.20,150.47 478.70,150.49 479.20,150.49 479.70,150.50 480.20,150.50 480.70,150.50 481.20,150.50 481.70,150.49 482.20,150.49 482.70,150.48 483.20,150.47 483.70,150.46 484.20,150.45 484.70,150.44 485.20,150.43 485.70,150.42 486.20,150.40 486.70,150.39 487.20,150.37 487.70,150.35 488.20,150.33 488.70,150.31 489.20,150.29 489.70,150.27 490.20,150.25 490.70,150.23 491.20,150.20 491.70,150.18 492.20,150.15 492.70,150.13 493.20,150.10 493.70,150.07 494.20,150.05 494.70,150.02 495.20,149.99 495.70,149.95 496.20,149.91 496.70,149.86 497.20,149.81 497.70,149.75 498.20,149.68 498.70,149.61 499.20,149.53 499.70,149.45 500.20,149.36 500.70,149.27 501.20,149.17 501.70,149.07 502.20,148.97 502.70,148.86 503.20,148.74 503.70,148.62 504.20,148.50 504.70,148.38 505.20,148.25 505.70,148.10 506.20,147.94 506.70,147.76 507.20,147.56 507.70,147.34 508.20,147.12 508.70,146.87 509.20,146.62 509.70,146.35 510.20,146.08 510.70,145.79 511.20,145.49 511.70,145.19 512.20,144.87 512.70,144.55 513.20,144.20 513.70,143.80 514.20,143.36 514.70,142.84 515.20,142.24 515.70,141.44 516.20,140.45 516.70,139.30 517.20,138.03 517.70,136.65 518.20,135.21 518.70,133.74 519.20,132.27 519.70,130.83 520.20,129.44 520.70,127.92 521.20,126.30 521.70,124.63 522.20,122.98 522.70,121.39 523.20,119.92 523.70,118.65 524.20,117.59 524.70,116.53 525.20,115.52 525.70,114.69 526.20,114.19 526.70,114.13 527.20,114.43 527.70,114.99 528.20,115.71 528.70,116.52 529.20,117.34 529.70,118.34 530.20,119.55 530.70,120.92 531.20,122.40 531.70,123.95 532.20,125.53 532.70,127.09 533.20,128.61 533.70,130.21 534.20,131.92 534.70,133.69 535.20,135.50 535.70,137.32 536.20,139.12 536.70,140.88 537.20,142.57 537.70,144.15 538.20,145.60 538.70,146.90 539.20,148.08 539.70,149.21 540.20,150.28 540.70,151.31 541.20,152.29 541.70,153.23 542.20,154.12 542.70,154.97 543.20,155.78 543.70,156.55 544.20,157.29 544.70,157.98 545.20,158.63 545.70,159.25 546.20,159.84 546.70,160.41 547.20,160.97 547.70,161.52 548.20,162.07 548.70,162.63 549.20,163.20 549.70,163.80 550.20,164.41 550.70,165.03 551.20,165.64 551.70,166.22 552.20,166.76 552.70,167.24 553.20,167.66 553.70,168.05 554.20,168.41 554.70,168.75 555.20,169.06 555.70,169.34 556.20,169.58" stroke="#3030f0" stroke-width="1.15"/>
<polyline points="401.20,109.00 401.70,113.71 402.20,118.80 402.70,124.05 403.20,129.25 403.70,134.17 404.20,138.59 404.70,142.30 405.20,145.07 405.70,146.68 406.20,147.04 406.70,147.13 407.20,147.22 407.70,147.31 408.20,147.39 408.70,147.48 409.20,147.56 409.70,147.63 410.20,147.70 410.70,147.77 411.20,147.84 411.70,147.91 412.20,147.97 412.70,148.03 413.20,148.09 413.70,148.14 414.20,148.20 414.70,148.25 415.20,148.30 415.70,148.34 416.20,148.39 416.70,148.43 417.20,148.47 417.70,148.51 418.20,148.55 418.70,148.59 419.20,148.62 419.70,148.66 420.20,148.69 420.70,148.72 421.20,148.75 421.70,148.77 422.20,148.80 422.70,148.83 423.20,148.85 423.70,148.87 424.20,148.90 424.70,148.92 425.20,148.94 425.70,148.96 426.20,148.98 426.70,149.00 427.20,149.01 427.70,149.03 428.20,149.05 428.70,149.07 429.20,149.08 429.70,149.10 430.20,149.12 430.70,149.13 431.20,149.15 431.70,149.16 432.20,149.18 432.70,149.20 433.20,149.21 433.70,149.23 434.20,149.25 434.70,149.27 435.20,149.28 435.70,149.30 436.20,149.32 436.70,149.34 437.20,149.36 437.70,149.39 438.20,149.41 438.70,149.43 439.20,149.46 439.70,149.48 440.20,149.51 440.70,149.54 441.20,149.56 441.70,149.59 442.20,149.61 442.70,149.64 443.20,149.66 443.70,149.68 444.20,149.71 444.70,149.73 445.20,149.75 445.70,149.77 446.20,149.79 446.70,149.81 447.20,149.83 447.70,149.85 448.20,149.87 448.70,149.89 449.20,149.91 449.70,149.93 450.20,149.95 450.70,149.97 451.20,149.98 451.70,150.00 452.20,150.02 452.70,150.04 453.20,150.05 453.70,150.07 454.20,150.09 454.70,150.10 455.20,150.12 455.70,150.14 456.20,150.15 456.70,150.17 457.20,150.19 457.70,150.20 458.20,150.22 458.70,150.23 459.20,150.25 459.70,150.27 460.20,150.28 460.70,150.30 461.20,150.32 461.70,150.33 462.20,150.35 462.70,150.37 463.20,150.38 463.70,150.40 464.20,150.42 464.70,150.44 465.20,150.46 465.70,150.47 466.20,150.49 466.70,150.51 467.20,150.53 467.70,150.55 468.20,150.57 468.70,150.59 469.20,150.61 469.70,150.64 470.20,150.66 470.70,150.68 471.20,150.70 471.70,150.73 472.20,150.75 472.70,150.77 473.20,150.80 473.70,150.82 474.20,150.85 474.70,150.88 475.20,150.90 475.70,150.93 476.20,150.96 476.70,150.99 477.20,151.02 477.70,151.05 478.20,151.08 478.70,151.11 479.20,151.15 479.70,151.18 480.20,151.21 480.70,151.25 481.20,151.29 481.70,151.33 482.20,151.38 482.70,151.42 483.20,151.47 483.70,151.53 484.20,151.58 484.70,151.64 485.20,151.69 485.70,151.76 486.20,151.82 486.70,151.88 487.20,151.95 487.70,152.02 488.20,152.09 488.70,152.16 489.20,152.24 489.70,152.32 490.20,152.39 490.70,152.47 491.20,152.56 491.70,152.64 492.20,152.72 492.70,152.81 493.20,152.90 493.70,152.99 494.20,153.08 494.70,153.17 495.20,153.26 495.70,153.36 496.20,153.46 496.70,153.55 497.20,153.65 497.70,153.75 498.20,153.85 498.70,153.95 499.20,154.05 499.70,154.16 500.20,154.26 500.70,154.36 501.20,154.47 501.70,154.58 502.20,154.68 502.70,154.79 503.20,154.90 503.70,155.01 504.20,155.11 504.70,155.22 505.20,155.33 505.70,155.44 506.20,155.55 506.70,155.66 507.20,155.77 507.70,155.88 508.20,155.99 508.70,156.10 509.20,156.21 509.70,156.32 510.20,156.43 510.70,156.54 511.20,156.65 511.70,156.76 512.20,156.87 512.70,156.98 513.20,157.09 513.70,157.20 514.20,157.31 514.70,157.41 515.20,157.52 515.70,157.62 516.20,157.73 516.70,157.83 517.20,157.94 517.70,158.04 518.20,158.14 518.70,158.24 519.20,158.34 519.70,158.44 520.20,158.54 520.70,158.64 521.20,158.74 521.70,158.85 522.20,158.96 522.70,159.07 523.20,159.18 523.70,159.29 524.20,159.40 524.70,159.51 525.20,159.63 525.70,159.74 526.20,159.85 526.70,159.96 527.20,160.07 527.70,160.17 528.20,160.28 528.70,160.38 529.20,160.47 529.70,160.57 530.20,160.66 530.70,160.74 531.20,160.82 531.70,160.90 532.20,160.97 532.70,161.05 533.20,161.12 533.70,161.20 534.20,161.27 534.70,161.35 535.20,161.42 535.70,161.50 536.20,161.57 536.70,161.65 537.20,161.72 537.70,161.79 538.20,161.87 538.70,161.94 539.20,162.01 539.70,162.09 540.20,162.16 540.70,162.23 541.20,162.29 541.70,162.36 542.20,162.43 542.70,162.49 543.20,162.56 543.70,162.62 544.20,162.68 544.70,162.74 545.20,162.79 545.70,162.85 546.20,162.90 546.70,162.95 547.20,163.00 547.70,163.05 548.20,163.09 548.70,163.13 549.20,163.17 549.70,163.21 550.20,163.24 550.70,163.27 551.20,163.30 551.70,163.32 552.20,163.34 552.70,163.36 553.20,163.38 553.70,163.39 554.20,163.40 554.70,163.40 555.20,163.40 555.70,163.40 556.20,163.40 556.70,163.40 557.20,163.40 557.70,163.40 558.20,163.40 558.70,163.40 559.20,163.40 559.70,163.40 560.20,163.40 560.70,163.40 561.20,163.40 561.70,163.40 562.20,163.40 562.70,163.39 563.20,163.39 563.70,163.39 564.20,163.39 564.70,163.39 565.20,163.39 565.70,163.39 566.20,163.39 566.70,163.39 567.20,163.38 567.70,163.38 568.20,163.38 568.70,163.38 569.20,163.38 569.70,163.38 570.20,163.37 570.70,163.37 571.20,163.37 571.70,163.37 572.20,163.36 572.70,163.36 573.20,163.36 573.70,163.36 574.20,163.35 574.70,163.35 575.20,163.35 575.70,163.35 576.20,163.34 576.70,163.34 577.20,163.34 577.70,163.33 578.20,163.33 578.70,163.32 579.20,163.32 579.70,163.32 580.20,163.31 580.70,163.31 581.20,163.30 581.70,163.30 582.20,163.29 582.70,163.29 583.20,163.28 583.70,163.28 584.20,163.27 584.70,163.27 585.20,163.26 585.70,163.26 586.20,163.25 586.70,163.24 587.20,163.24 587.70,163.23 588.20,163.23 588.70,163.22 589.20,163.21 589.70,163.20 590.20,163.19 590.70,163.15 591.20,163.08 591.70,162.98 592.20,162.85 592.70,162.70 593.20,162.53 593.70,162.35 594.20,162.15 594.70,161.95 595.20,161.74 595.70,161.53 596.20,161.31 596.70,161.09 597.20,160.83 597.70,160.56 598.20,160.27 598.70,159.95 599.20,159.62 599.70,159.26 600.20,158.88 600.70,158.48 601.20,158.07 601.70,157.63 602.20,157.17 602.70,156.70 603.20,156.19 603.70,155.63 604.20,155.02 604.70,154.35 605.20,153.64 605.70,152.89 606.20,152.09 606.70,151.26 607.20,150.39 607.70,149.49 608.20,148.55 608.70,147.59 609.20,146.61 609.70,145.60 610.20,144.55 610.70,143.44 611.20,142.26 611.70,141.00 612.20,139.65 612.70,138.21 613.20,136.68 613.70,135.04 614.20,133.22 614.70,131.11 615.20,128.79 615.70,126.33 616.20,123.81 616.70,121.27 617.20,118.48 617.70,115.48 618.20,112.42 618.70,109.43 619.20,106.66 619.70,104.23 620.20,102.24 620.70,100.30 621.20,98.36 621.70,96.47 622.20,94.70 622.70,93.10 623.20,91.73 623.70,90.66 624.20,89.93 624.70,89.61 625.20,89.65 625.70,89.85 626.20,90.19 626.70,90.67 627.20,91.27 627.70,91.98 628.20,93.19 628.70,96.05 629.20,99.85 629.70,103.67 630.20,106.83 630.70,109.79 631.20,112.69 631.70,115.60 632.20,118.59 632.70,121.72 633.20,125.09 633.70,128.88 634.20,132.93 634.70,136.99 635.20,140.82 635.70,144.20 636.20,147.22 636.70,150.15 637.20,152.95 637.70,155.62 638.20,158.12 638.70,160.44 639.20,162.56 639.70,164.45 640.20,166.14 640.70,167.72 641.20,169.20 641.70,170.57 642.20,171.85 642.70,173.05 643.20,174.17 643.70,175.21 644.20,176.19 644.70,177.13 645.20,178.03 645.70,178.86 646.20,179.59 646.70,180.20 647.20,180.68 647.70,181.11 648.20,181.52 648.70,181.89 649.20,182.24 649.70,182.56 650.20,182.84 650.70,183.08 651.20,183.28 651.70,183.43 652.20,183.54 652.70,183.64 653.20,183.73 653.70,183.81 654.20,183.88 654.70,183.93 655.20,183.97 655.70,184.00 656.20,183.99 656.70,183.92 657.20,183.78 657.70,183.59 658.20,183.37 658.70,183.14 659.20,182.91 659.70,182.66 660.20,182.39 660.70,182.09 661.20,181.76 661.70,181.41 662.20,181.04 662.70,180.64 663.20,180.21 663.70,179.76 664.20,179.30 664.70,178.80" stroke="#3030f0" stroke-width="1.15"/>
<polyline points="401.20,109.00 401.70,115.20 402.20,120.82 402.70,125.65 403.20,129.48 403.70,132.10 404.20,133.41 404.70,134.32 405.20,135.02 405.70,135.43 406.20,135.50 406.70,135.49 407.20,135.47 407.70,135.44 408.20,135.39 408.70,135.34 409.20,135.28 409.70,135.22 410.20,135.14 410.70,135.06 411.20,134.97 411.70,134.88 412.20,134.78 412.70,134.68 413.20,134.57 413.70,134.46 414.20,134.34 414.70,134.23 415.20,134.11 415.70,133.99 416.20,133.87 416.70,133.75 417.20,133.63 417.70,133.51 418.20,133.40 418.70,133.28 419.20,133.17 419.70,133.06 420.20,132.96 420.70,132.85 421.20,132.75 421.70,132.64 422.20,132.53 422.70,132.41 423.20,132.30 423.70,132.18 424.20,132.06 424.70,131.95 425.20,131.82 425.70,131.70 426.20,131.58 426.70,131.45 427.20,131.33 427.70,131.20 428.20,131.07 428.70,130.95 429.20,130.82 429.70,130.69 430.20,130.56 430.70,130.43 431.20,130.29 431.70,130.16 432.20,130.03 432.70,129.90 433.20,129.77 433.70,129.63 434.20,129.50 434.70,129.37 435.20,129.24 435.70,129.11 436.20,128.98 436.70,128.84 437.20,128.71 437.70,128.59 438.20,128.46 438.70,128.33 439.20,128.20 439.70,128.08 440.20,127.95 440.70,127.82 441.20,127.70 441.70,127.57 442.20,127.45 442.70,127.32 443.20,127.19 443.70,127.07 444.20,126.94 444.70,126.81 445.20,126.69 445.70,126.56 446.20,126.43 446.70,126.31 447.20,126.18 447.70,126.05 448.20,125.92 448.70,125.80 449.20,125.67 449.70,125.54 450.20,125.42 450.70,125.29 451.20,125.16 451.70,125.04 452.20,124.91 452.70,124.79 453.20,124.66 453.70,124.54 454.20,124.41 454.70,124.29 455.20,124.16 455.70,124.04 456.20,123.92 456.70,123.79 457.20,123.67 457.70,123.55 458.20,123.43 458.70,123.31 459.20,123.19 459.70,123.07 460.20,122.95 460.70,122.84 461.20,122.72 461.70,122.61 462.20,122.51 462.70,122.40 463.20,122.30 463.70,122.20 464.20,122.10 464.70,122.00 465.20,121.90 465.70,121.80 466.20,121.71 466.70,121.61 467.20,121.52 467.70,121.42 468.20,121.33 468.70,121.23 469.20,121.14 469.70,121.04 470.20,120.94 470.70,120.84 471.20,120.74 471.70,120.64 472.20,120.53 472.70,120.43 473.20,120.32 473.70,120.21 474.20,120.09 474.70,119.98 475.20,119.86 475.70,119.73 476.20,119.61 476.70,119.48 477.20,119.34 477.70,119.20 478.20,119.06 478.70,118.91 479.20,118.76 479.70,118.60 480.20,118.43 480.70,118.26 481.20,118.07 481.70,117.88 482.20,117.67 482.70,117.45 483.20,117.23 483.70,116.99 484.20,116.75 484.70,116.50 485.20,116.24 485.70,115.97 486.20,115.69 486.70,115.41 487.20,115.12 487.70,114.83 488.20,114.52 488.70,114.22 489.20,113.90 489.70,113.59 490.20,113.26 490.70,112.94 491.20,112.61 491.70,112.27 492.20,111.93 492.70,111.59 493.20,111.25 493.70,110.91 494.20,110.56 494.70,110.21 495.20,109.86 495.70,109.49 496.20,109.10 496.70,108.70 497.20,108.28 497.70,107.85 498.20,107.42 498.70,106.97 499.20,106.52 499.70,106.06 500.20,105.61 500.70,105.16 501.20,104.71 501.70,104.26 502.20,103.82 502.70,103.32 503.20,102.76 503.70,102.18 504.20,101.59 504.70,101.04 505.20,100.54 505.70,100.12 506.20,99.81 506.70,99.63 507.20,99.63 507.70,99.99 508.20,100.66 508.70,101.53 509.20,102.49 509.70,103.46 510.20,104.37 510.70,105.51 511.20,106.84 511.70,108.21 512.20,109.48 512.70,110.48 513.20,111.09 513.70,111.18 514.20,110.95 514.70,110.52 515.20,109.90 515.70,109.15 516.20,108.30 516.70,107.38 517.20,106.45 517.70,105.53 518.20,104.64 518.70,103.57 519.20,102.35 519.70,101.04 520.20,99.72 520.70,98.46 521.20,97.34 521.70,96.42 522.20,95.76 522.70,95.15 523.20,94.57 523.70,94.01 524.20,93.51 524.70,93.08 525.20,92.72 525.70,92.47 526.20,92.32 526.70,92.32 527.20,92.49 527.70,92.84 528.20,93.35 528.70,93.99 529.20,94.73 529.70,95.57 530.20,96.47 530.70,97.42 531.20,98.44 531.70,99.89 532.20,101.77 532.70,103.94 533.20,106.27 533.70,108.63 534.20,110.90 534.70,112.94 535.20,114.66 535.70,116.34 536.20,118.03 536.70,119.71 537.20,121.35 537.70,122.94 538.20,124.46 538.70,125.87 539.20,127.17 539.70,128.32 540.20,129.31 540.70,130.12 541.20,130.73 541.70,131.28 542.20,131.81 542.70,132.30 543.20,132.77 543.70,133.20 544.20,133.61 544.70,133.98 545.20,134.31 545.70,134.61 546.20,134.88 546.70,135.10 547.20,135.29 547.70,135.43 548.20,135.54 548.70,135.63 549.20,135.73 549.70,135.81 550.20,135.90 550.70,135.97 551.20,136.04 551.70,136.11 552.20,136.17 552.70,136.22 553.20,136.27 553.70,136.31 554.20,136.35 554.70,136.37 555.20,136.39 555.70,136.40 556.20,136.40 556.70,136.38 557.20,136.35 557.70,136.29 558.20,136.23 558.70,136.15 559.20,136.05 559.70,135.95 560.20,135.83 560.70,135.71 561.20,135.58 561.70,135.44 562.20,135.30 562.70,135.16 563.20,135.02 563.70,134.87 564.20,134.73 564.70,134.58 565.20,134.44 565.70,134.30 566.20,134.15 566.70,133.99 567.20,133.82 567.70,133.65 568.20,133.47 568.70,133.29 569.20,133.10 569.70,132.90 570.20,132.70 570.70,132.49 571.20,132.28 571.70,132.07 572.20,131.84 572.70,131.62 573.20,131.39 573.70,131.15 574.20,130.92 574.70,130.68 575.20,130.43 575.70,130.18 576.20,129.93 576.70,129.68 577.20,129.42 577.70,129.16 578.20,128.90 578.70,128.64 579.20,128.37 579.70,128.09 580.20,127.81 580.70,127.52 581.20,127.22 581.70,126.92 582.20,126.61 582.70,126.29 583.20,125.97 583.70,125.64 584.20,125.30 584.70,124.96 585.20,124.61 585.70,124.26 586.20,123.90 586.70,123.54 587.20,123.17 587.70,122.79 588.20,122.41 588.70,122.03 589.20,121.64 589.70,121.24 590.20,120.84 590.70,120.44 591.20,120.05 591.70,119.65 592.20,119.25 592.70,118.85 593.20,118.44 593.70,118.02 594.20,117.59 594.70,117.15 595.20,116.69 595.70,116.21 596.20,115.71 596.70,115.19 597.20,114.65 597.70,114.08 598.20,113.48 598.70,112.86 599.20,112.20 599.70,111.50 600.20,110.72 600.70,109.81 601.20,108.80 601.70,107.71 602.20,106.54 602.70,105.31 603.20,104.05 603.70,102.77 604.20,101.48 604.70,100.13 605.20,98.71 605.70,97.23 606.20,95.68 606.70,94.09 607.20,92.45 607.70,90.75 608.20,88.88 608.70,86.84 609.20,84.76 609.70,82.75 610.20,80.94 610.70,79.40 611.20,77.81 611.70,76.25 612.20,74.90 612.70,73.96 613.20,73.60 613.70,73.89 614.20,74.64 614.70,75.69 615.20,76.87 615.70,78.00 616.20,79.36 616.70,81.08 617.20,82.81 617.70,84.19 618.20,84.88 618.70,84.72 619.20,84.08 619.70,83.17 620.20,82.20 620.70,81.36 621.20,80.81 621.70,80.32 622.20,79.87 622.70,79.51 623.20,79.32 623.70,79.34 624.20,79.56 624.70,79.97 625.20,80.54 625.70,81.27 626.20,82.13 626.70,83.10 627.20,84.18 627.70,85.69 628.20,88.20 628.70,91.38 629.20,94.89 629.70,98.48 630.20,102.80 630.70,107.47 631.20,111.82 631.70,115.46 632.20,118.73 632.70,121.96 633.20,125.44 633.70,129.26 634.20,133.23 634.70,137.17 635.20,140.89 635.70,144.20 636.20,147.21 636.70,150.13 637.20,152.93 637.70,155.60 638.20,158.11 638.70,160.43 639.20,162.55 639.70,164.45 640.20,166.15 640.70,167.74 641.20,169.24 641.70,170.64 642.20,171.94 642.70,173.14 643.20,174.24 643.70,175.24 644.20,176.16 644.70,177.05 645.20,177.92 645.70,178.76 646.20,179.56 646.70,180.29 647.20,180.94 647.70,181.51 648.20,181.96 648.70,182.30 649.20,182.53 649.70,182.74 650.20,182.93 650.70,183.12 651.20,183.29 651.70,183.46 652.20,183.60 652.70,183.74 653.20,183.85 653.70,183.96 654.20,184.04 654.70,184.11 655.20,184.16 655.70,184.19 656.20,184.20 656.70,184.15 657.20,184.01 657.70,183.80 658.20,183.52 658.70,183.20 659.20,182.84 659.70,182.46 660.20,182.08 660.70,181.71 661.20,181.36 661.70,180.99 662.20,180.59 662.70,180.18 663.20,179.74 663.70,179.27 664.20,178.80 664.70,178.30" stroke="#1a1a1a" stroke-width="1.1"/>
</g>
<text x="403.17" y="43.3" font-size="18.5" textLength="45.76" lengthAdjust="spacing">Fe 2p</text>
<text x="505.57" y="56.3" font-size="18.5" textLength="18.27" lengthAdjust="spacing">Fe</text>
<text x="526.28" y="47.1" font-size="13" textLength="13.96" lengthAdjust="spacing">3+</text>
<text x="571.37" y="55.1" font-size="18.5" textLength="18.27" lengthAdjust="spacing">Fe</text>
<text x="590.63" y="46.8" font-size="13" textLength="14.31" lengthAdjust="spacing">2+</text>
<line x1="521.3" y1="61" x2="507.56" y2="121.77" stroke="#3aa83a" stroke-width="1.2"/>
<polygon points="506.90,124.70 506.03,120.40 509.54,121.20" fill="#3aa83a"/>
<line x1="526.5" y1="59.2" x2="580.89" y2="131.01" stroke="#3aa83a" stroke-width="1.2"/>
<polygon points="582.70,133.40 578.85,131.30 581.72,129.12" fill="#3aa83a"/>
<line x1="583.5" y1="60.7" x2="538.73" y2="127.58" stroke="#3030f0" stroke-width="1.2"/>
<polygon points="536.50,130.90 537.45,125.52 541.11,127.97" fill="#3030f0"/>
<line x1="592" y1="59.9" x2="614.99" y2="94.57" stroke="#3030f0" stroke-width="1.2"/>
<polygon points="617.20,97.90 612.60,94.95 616.27,92.52" fill="#3030f0"/>
<g fill="none" stroke-linejoin="round">
<line x1="57" y1="539.8" x2="324" y2="539.8" stroke="#e6e2a6" stroke-width="1.4"/>
<polyline points="57.50,538.14 58.00,538.14 58.50,538.13 59.00,538.13 59.50,538.12 60.00,538.12 60.50,538.11 61.00,538.11 61.50,538.11 62.00,538.10 62.50,538.10 63.00,538.09 63.50,538.09 64.00,538.08 64.50,538.08 65.00,538.07 65.50,538.07 66.00,538.06 66.50,538.06 67.00,538.05 67.50,538.05 68.00,538.04 68.50,538.04 69.00,538.03 69.50,538.03 70.00,538.02 70.50,538.02 71.00,538.01 71.50,538.01 72.00,538.00 72.50,538.00 73.00,537.99 73.50,537.98 74.00,537.98 74.50,537.97 75.00,537.97 75.50,537.96 76.00,537.95 76.50,537.95 77.00,537.94 77.50,537.94 78.00,537.93 78.50,537.92 79.00,537.92 79.50,537.91 80.00,537.90 80.50,537.89 81.00,537.89 81.50,537.88 82.00,537.87 82.50,537.87 83.00,537.86 83.50,537.85 84.00,537.84 84.50,537.84 85.00,537.83 85.50,537.82 86.00,537.81 86.50,537.80 87.00,537.80 87.50,537.79 88.00,537.78 88.50,537.77 89.00,537.76 89.50,537.75 90.00,537.74 90.50,537.73 91.00,537.72 91.50,537.71 92.00,537.70 92.50,537.69 93.00,537.68 93.50,537.67 94.00,537.66 94.50,537.65 95.00,537.63 95.50,537.62 96.00,537.61 96.50,537.60 97.00,537.58 97.50,537.57 98.00,537.55 98.50,537.54 99.00,537.52 99.50,537.51 100.00,537.49 100.50,537.47 101.00,537.45 101.50,537.43 102.00,537.41 102.50,537.39 103.00,537.37 103.50,537.34 104.00,537.32 104.50,537.29 105.00,537.26 105.50,537.23 106.00,537.20 106.50,537.17 107.00,537.13 107.50,537.09 108.00,537.05 108.50,537.01 109.00,536.96 109.50,536.91 110.00,536.86 110.50,536.81 111.00,536.75 111.50,536.68 112.00,536.61 112.50,536.54 113.00,536.46 113.50,536.38 114.00,536.29 114.50,536.20 115.00,536.09 115.50,535.99 116.00,535.87 116.50,535.75 117.00,535.61 117.50,535.47 118.00,535.32 118.50,535.16 119.00,534.98 119.50,534.80 120.00,534.60 120.50,534.39 121.00,534.17 121.50,533.93 122.00,533.68 122.50,533.41 123.00,533.12 123.50,532.82 124.00,532.50 124.50,532.15 125.00,531.79 125.50,531.41 126.00,531.00 126.50,530.57 127.00,530.11 127.50,529.62 128.00,529.11 128.50,528.57 129.00,528.01 129.50,527.41 130.00,526.77 130.50,526.11 131.00,525.41 131.50,524.67 132.00,523.90 132.50,523.09 133.00,522.24 133.50,521.34 134.00,520.41 134.50,519.43 135.00,518.41 135.50,517.34 136.00,516.23 136.50,515.07 137.00,513.86 137.50,512.60 138.00,511.29 138.50,509.93 139.00,508.52 139.50,507.05 140.00,505.54 140.50,503.97 141.00,502.35 141.50,500.68 142.00,498.96 142.50,497.19 143.00,495.37 143.50,493.50 144.00,491.58 144.50,489.61 145.00,487.60 145.50,485.55 146.00,483.45 146.50,481.31 147.00,479.14 147.50,476.92 148.00,474.68 148.50,472.40 149.00,470.08 149.50,467.75 150.00,465.38 150.50,462.99 151.00,460.58 151.50,458.16 152.00,455.71 152.50,453.26 153.00,450.79 153.50,448.31 154.00,445.83 154.50,443.35 155.00,440.86 155.50,438.38 156.00,435.90 156.50,433.43 157.00,430.98 157.50,428.53 158.00,426.11 158.50,423.70 159.00,421.32 159.50,418.97 160.00,416.64 160.50,414.35 161.00,412.10 161.50,409.88 162.00,407.71 162.50,405.58 163.00,403.50 163.50,401.48 164.00,399.50 164.50,397.58 165.00,395.71 165.50,393.90 166.00,392.15 166.50,390.45 167.00,388.80 167.50,387.21 168.00,385.65 168.50,384.13 169.00,382.64 169.50,381.18 170.00,379.74 170.50,378.32 171.00,376.92 171.50,375.56 172.00,374.24 172.50,372.99 173.00,371.83 173.50,370.78 174.00,369.89 174.50,369.17 175.00,368.65 175.50,368.34 176.00,368.25 176.50,368.38 177.00,368.71 177.50,369.21 178.00,369.86 178.50,370.62 179.00,371.45 179.50,372.31 180.00,373.18 180.50,374.01 181.00,374.80 181.50,375.53 182.00,376.21 182.50,376.87 183.00,377.53 183.50,378.26 184.00,379.08 184.50,380.03 185.00,381.12 185.50,382.36 186.00,383.72 186.50,385.16 187.00,386.65 187.50,388.17 188.00,389.70 188.50,391.22 189.00,392.75 189.50,394.29 190.00,395.86 190.50,397.47 191.00,399.14 191.50,400.87 192.00,402.68 192.50,404.56 193.00,406.51 193.50,408.55 194.00,410.67 194.50,412.87 195.00,415.15 195.50,417.51 196.00,419.94 196.50,422.43 197.00,425.00 197.50,427.61 198.00,430.28 198.50,433.00 199.00,435.75 199.50,438.53 200.00,441.33 200.50,444.14 201.00,446.95 201.50,449.77 202.00,452.57 202.50,455.36 203.00,458.12 203.50,460.85 204.00,463.55 204.50,466.21 205.00,468.82 205.50,471.39 206.00,473.90 206.50,476.35 207.00,478.75 207.50,481.09 208.00,483.37 208.50,485.58 209.00,487.73 209.50,489.82 210.00,491.84 210.50,493.79 211.00,495.68 211.50,497.50 212.00,499.26 212.50,500.96 213.00,502.59 213.50,504.16 214.00,505.66 214.50,507.11 215.00,508.50 215.50,509.83 216.00,511.10 216.50,512.32 217.00,513.49 217.50,514.60 218.00,515.67 218.50,516.68 219.00,517.65 219.50,518.57 220.00,519.45 220.50,520.29 221.00,521.09 221.50,521.84 222.00,522.56 222.50,523.25 223.00,523.90 223.50,524.51 224.00,525.10 224.50,525.65 225.00,526.18 225.50,526.68 226.00,527.15 226.50,527.60 227.00,528.02 227.50,528.42 228.00,528.80 228.50,529.16 229.00,529.51 229.50,529.83 230.00,530.14 230.50,530.43 231.00,530.70 231.50,530.96 232.00,531.21 232.50,531.45 233.00,531.67 233.50,531.88 234.00,532.08 234.50,532.27 235.00,532.46 235.50,532.63 236.00,532.79 236.50,532.95 237.00,533.10 237.50,533.24 238.00,533.38 238.50,533.51 239.00,533.64 239.50,533.76 240.00,533.87 240.50,533.98 241.00,534.09 241.50,534.19 242.00,534.29 242.50,534.38 243.00,534.47 243.50,534.56 244.00,534.64 244.50,534.72 245.00,534.80 245.50,534.87 246.00,534.95 246.50,535.02 247.00,535.09 247.50,535.15 248.00,535.22 248.50,535.28 249.00,535.34 249.50,535.40 250.00,535.45 250.50,535.51 251.00,535.56 251.50,535.62 252.00,535.67 252.50,535.72 253.00,535.77 253.50,535.81 254.00,535.86 254.50,535.90 255.00,535.95 255.50,535.99 256.00,536.03 256.50,536.07 257.00,536.11 257.50,536.15 258.00,536.19 258.50,536.23 259.00,536.26 259.50,536.30 260.00,536.33 260.50,536.37 261.00,536.40 261.50,536.43 262.00,536.46 262.50,536.50 263.00,536.53 263.50,536.56 264.00,536.59 264.50,536.61 265.00,536.64 265.50,536.67 266.00,536.70 266.50,536.72 267.00,536.75 267.50,536.78 268.00,536.80 268.50,536.82 269.00,536.85 269.50,536.87 270.00,536.90 270.50,536.92 271.00,536.94 271.50,536.96 272.00,536.98 272.50,537.01 273.00,537.03 273.50,537.05 274.00,537.07 274.50,537.09 275.00,537.10 275.50,537.12 276.00,537.14 276.50,537.16 277.00,537.18 277.50,537.20 278.00,537.21 278.50,537.23 279.00,537.25 279.50,537.26 280.00,537.28 280.50,537.30 281.00,537.31 281.50,537.33 282.00,537.34 282.50,537.36 283.00,537.37 283.50,537.39 284.00,537.40 284.50,537.41 285.00,537.43 285.50,537.44 286.00,537.46 286.50,537.47 287.00,537.48 287.50,537.49 288.00,537.51 288.50,537.52 289.00,537.53 289.50,537.54 290.00,537.55 290.50,537.57 291.00,537.58 291.50,537.59 292.00,537.60 292.50,537.61 293.00,537.62 293.50,537.63 294.00,537.64 294.50,537.65 295.00,537.66 295.50,537.67 296.00,537.68 296.50,537.69 297.00,537.70 297.50,537.71 298.00,537.72 298.50,537.73 299.00,537.74 299.50,537.75 300.00,537.76 300.50,537.77 301.00,537.77 301.50,537.78 302.00,537.79 302.50,537.80 303.00,537.81 303.50,537.82 304.00,537.82 304.50,537.83 305.00,537.84 305.50,537.85 306.00,537.85 306.50,537.86 307.00,537.87 307.50,537.88 308.00,537.88 308.50,537.89 309.00,537.90 309.50,537.90 310.00,537.91 310.50,537.92 311.00,537.92 311.50,537.93 312.00,537.94 312.50,537.94 313.00,537.95 313.50,537.96 314.00,537.96 314.50,537.97 315.00,537.97 315.50,537.98 316.00,537.99 316.50,537.99 317.00,538.00 317.50,538.00 318.00,538.01 318.50,538.01 319.00,538.02 319.50,538.02 320.00,538.03 320.50,538.04 321.00,538.04 321.50,538.05 322.00,538.05 322.50,538.06 323.00,538.06 323.50,538.07" stroke="#ff2020" stroke-width="1.4"/>
<polyline points="57.50,538.44 58.00,538.44 58.50,538.43 59.00,538.43 59.50,538.42 60.00,538.42 60.50,538.41 61.00,538.41 61.50,538.41 62.00,538.40 62.50,538.40 63.00,538.39 63.50,538.39 64.00,538.38 64.50,538.38 65.00,538.37 65.50,538.37 66.00,538.36 66.50,538.36 67.00,538.35 67.50,538.35 68.00,538.34 68.50,538.34 69.00,538.33 69.50,538.33 70.00,538.32 70.50,538.32 71.00,538.31 71.50,538.31 72.00,538.30 72.50,538.30 73.00,538.29 73.50,538.28 74.00,538.28 74.50,538.27 75.00,538.27 75.50,538.26 76.00,538.25 76.50,538.25 77.00,538.24 77.50,538.24 78.00,538.23 78.50,538.22 79.00,538.22 79.50,538.21 80.00,538.20 80.50,538.19 81.00,538.19 81.50,538.18 82.00,538.17 82.50,538.17 83.00,538.16 83.50,538.15 84.00,538.14 84.50,538.14 85.00,538.13 85.50,538.12 86.00,538.11 86.50,538.10 87.00,538.10 87.50,538.09 88.00,538.08 88.50,538.07 89.00,538.06 89.50,538.05 90.00,538.04 90.50,538.03 91.00,538.02 91.50,538.01 92.00,538.00 92.50,537.99 93.00,537.98 93.50,537.97 94.00,537.96 94.50,537.95 95.00,537.93 95.50,537.92 96.00,537.91 96.50,537.90 97.00,537.88 97.50,537.87 98.00,537.85 98.50,537.84 99.00,537.82 99.50,537.81 100.00,537.79 100.50,537.77 101.00,537.75 101.50,537.73 102.00,537.71 102.50,537.69 103.00,537.67 103.50,537.64 104.00,537.62 104.50,537.59 105.00,537.56 105.50,537.53 106.00,537.50 106.50,537.47 107.00,537.43 107.50,537.39 108.00,537.35 108.50,537.31 109.00,537.26 109.50,537.21 110.00,537.16 110.50,537.11 111.00,537.05 111.50,536.98 112.00,536.91 112.50,536.84 113.00,536.76 113.50,536.68 114.00,536.59 114.50,536.50 115.00,536.39 115.50,536.29 116.00,536.17 116.50,536.05 117.00,535.91 117.50,535.77 118.00,535.62 118.50,535.46 119.00,535.28 119.50,535.10 120.00,534.90 120.50,534.69 121.00,534.47 121.50,534.23 122.00,533.98 122.50,533.71 123.00,533.43 123.50,533.12 124.00,532.80 124.50,532.46 125.00,532.09 125.50,531.71 126.00,531.30 126.50,530.87 127.00,530.41 127.50,529.93 128.00,529.42 128.50,528.89 129.00,528.32 129.50,527.72 130.00,527.10 130.50,526.44 131.00,525.74 131.50,525.01 132.00,524.25 132.50,523.44 133.00,522.60 133.50,521.72 134.00,520.80 134.50,519.84 135.00,518.84 135.50,517.79 136.00,516.70 136.50,515.56 137.00,514.38 137.50,513.15 138.00,511.87 138.50,510.55 139.00,509.17 139.50,507.75 140.00,506.28 140.50,504.76 141.00,503.19 141.50,501.57 142.00,499.90 142.50,498.17 143.00,496.40 143.50,494.58 144.00,492.72 144.50,490.80 145.00,488.84 145.50,486.83 146.00,484.77 146.50,482.67 147.00,480.53 147.50,478.35 148.00,476.13 148.50,473.87 149.00,471.57 149.50,469.24 150.00,466.88 150.50,464.49 151.00,462.07 151.50,459.63 152.00,457.17 152.50,454.68 153.00,452.19 153.50,449.67 154.00,447.15 154.50,444.63 155.00,442.10 155.50,439.57 156.00,437.04 156.50,434.52 157.00,432.01 157.50,429.52 158.00,427.04 158.50,424.59 159.00,422.16 159.50,419.75 160.00,417.39 160.50,415.05 161.00,412.76 161.50,410.50 162.00,408.30 162.50,406.14 163.00,404.03 163.50,401.97 164.00,399.98 164.50,398.04 165.00,396.16 165.50,394.35 166.00,392.60 166.50,390.92 167.00,389.31 167.50,387.78 168.00,386.31 168.50,384.93 169.00,383.62 169.50,382.38 170.00,381.23 170.50,380.16 171.00,379.17 171.50,378.27 172.00,377.45 172.50,376.72 173.00,376.07 173.50,375.51 174.00,375.04 174.50,374.65 175.00,374.35 175.50,374.14 176.00,374.01 176.50,373.97 177.00,374.01 177.50,374.12 178.00,374.32 178.50,374.59 179.00,374.93 179.50,375.34 180.00,375.82 180.50,376.36 181.00,376.97 181.50,377.62 182.00,378.34 182.50,379.10 183.00,379.92 183.50,380.78 184.00,381.68 184.50,382.64 185.00,383.63 185.50,384.67 186.00,385.76 186.50,386.89 187.00,388.06 187.50,389.29 188.00,390.56 188.50,391.89 189.00,393.28 189.50,394.73 190.00,396.24 190.50,397.81 191.00,399.46 191.50,401.18 192.00,402.98 192.50,404.86 193.00,406.81 193.50,408.85 194.00,410.97 194.50,413.17 195.00,415.45 195.50,417.81 196.00,420.24 196.50,422.73 197.00,425.30 197.50,427.91 198.00,430.58 198.50,433.30 199.00,436.05 199.50,438.83 200.00,441.63 200.50,444.44 201.00,447.25 201.50,450.07 202.00,452.87 202.50,455.66 203.00,458.42 203.50,461.15 204.00,463.85 204.50,466.51 205.00,469.12 205.50,471.69 206.00,474.20 206.50,476.65 207.00,479.05 207.50,481.39 208.00,483.67 208.50,485.88 209.00,488.03 209.50,490.12 210.00,492.14 210.50,494.09 211.00,495.98 211.50,497.80 212.00,499.56 212.50,501.26 213.00,502.89 213.50,504.46 214.00,505.96 214.50,507.41 215.00,508.80 215.50,510.13 216.00,511.40 216.50,512.62 217.00,513.79 217.50,514.90 218.00,515.97 218.50,516.98 219.00,517.95 219.50,518.87 220.00,519.75 220.50,520.59 221.00,521.39 221.50,522.14 222.00,522.86 222.50,523.55 223.00,524.20 223.50,524.81 224.00,525.40 224.50,525.95 225.00,526.48 225.50,526.98 226.00,527.45 226.50,527.90 227.00,528.32 227.50,528.72 228.00,529.10 228.50,529.46 229.00,529.81 229.50,530.13 230.00,530.44 230.50,530.73 231.00,531.00 231.50,531.26 232.00,531.51 232.50,531.75 233.00,531.97 233.50,532.18 234.00,532.38 234.50,532.57 235.00,532.76 235.50,532.93 236.00,533.09 236.50,533.25 237.00,533.40 237.50,533.54 238.00,533.68 238.50,533.81 239.00,533.94 239.50,534.06 240.00,534.17 240.50,534.28 241.00,534.39 241.50,534.49 242.00,534.59 242.50,534.68 243.00,534.77 243.50,534.86 244.00,534.94 244.50,535.02 245.00,535.10 245.50,535.17 246.00,535.25 246.50,535.32 247.00,535.39 247.50,535.45 248.00,535.52 248.50,535.58 249.00,535.64 249.50,535.70 250.00,535.75 250.50,535.81 251.00,535.86 251.50,535.92 252.00,535.97 252.50,536.02 253.00,536.07 253.50,536.11 254.00,536.16 254.50,536.20 255.00,536.25 255.50,536.29 256.00,536.33 256.50,536.37 257.00,536.41 257.50,536.45 258.00,536.49 258.50,536.53 259.00,536.56 259.50,536.60 260.00,536.63 260.50,536.67 261.00,536.70 261.50,536.73 262.00,536.76 262.50,536.80 263.00,536.83 263.50,536.86 264.00,536.89 264.50,536.91 265.00,536.94 265.50,536.97 266.00,537.00 266.50,537.02 267.00,537.05 267.50,537.08 268.00,537.10 268.50,537.12 269.00,537.15 269.50,537.17 270.00,537.20 270.50,537.22 271.00,537.24 271.50,537.26 272.00,537.28 272.50,537.31 273.00,537.33 273.50,537.35 274.00,537.37 274.50,537.39 275.00,537.40 275.50,537.42 276.00,537.44 276.50,537.46 277.00,537.48 277.50,537.50 278.00,537.51 278.50,537.53 279.00,537.55 279.50,537.56 280.00,537.58 280.50,537.60 281.00,537.61 281.50,537.63 282.00,537.64 282.50,537.66 283.00,537.67 283.50,537.69 284.00,537.70 284.50,537.71 285.00,537.73 285.50,537.74 286.00,537.76 286.50,537.77 287.00,537.78 287.50,537.79 288.00,537.81 288.50,537.82 289.00,537.83 289.50,537.84 290.00,537.85 290.50,537.87 291.00,537.88 291.50,537.89 292.00,537.90 292.50,537.91 293.00,537.92 293.50,537.93 294.00,537.94 294.50,537.95 295.00,537.96 295.50,537.97 296.00,537.98 296.50,537.99 297.00,538.00 297.50,538.01 298.00,538.02 298.50,538.03 299.00,538.04 299.50,538.05 300.00,538.06 300.50,538.07 301.00,538.07 301.50,538.08 302.00,538.09 302.50,538.10 303.00,538.11 303.50,538.12 304.00,538.12 304.50,538.13 305.00,538.14 305.50,538.15 306.00,538.15 306.50,538.16 307.00,538.17 307.50,538.18 308.00,538.18 308.50,538.19 309.00,538.20 309.50,538.20 310.00,538.21 310.50,538.22 311.00,538.22 311.50,538.23 312.00,538.24 312.50,538.24 313.00,538.25 313.50,538.26 314.00,538.26 314.50,538.27 315.00,538.27 315.50,538.28 316.00,538.29 316.50,538.29 317.00,538.30 317.50,538.30 318.00,538.31 318.50,538.31 319.00,538.32 319.50,538.32 320.00,538.33 320.50,538.34 321.00,538.34 321.50,538.35 322.00,538.35 322.50,538.36 323.00,538.36 323.50,538.37" stroke="#222" stroke-width="1.2"/>
<line x1="57" y1="538.8" x2="99" y2="538.8" stroke="#7d6a3c" stroke-width="1.6"/>
<line x1="283.5" y1="538.8" x2="324" y2="538.8" stroke="#7d6a3c" stroke-width="1.6"/>
<polyline points="100.00,538.95 100.50,538.94 101.00,538.94 101.50,538.93 102.00,538.92 102.50,538.91 103.00,538.90 103.50,538.89 104.00,538.88 104.50,538.87 105.00,538.85 105.50,538.84 106.00,538.82 106.50,538.80 107.00,538.78 107.50,538.75 108.00,538.73 108.50,538.70 109.00,538.67 109.50,538.64 110.00,538.60 110.50,538.56 111.00,538.52 111.50,538.47 112.00,538.42 112.50,538.37 113.00,538.31 113.50,538.24 114.00,538.17 114.50,538.10 115.00,538.01 115.50,537.93 116.00,537.83 116.50,537.73 117.00,537.61 117.50,537.49 118.00,537.36 118.50,537.22 119.00,537.07 119.50,536.91 120.00,536.74 120.50,536.55 121.00,536.35 121.50,536.14 122.00,535.91 122.50,535.67 123.00,535.41 123.50,535.13 124.00,534.84 124.50,534.52 125.00,534.19 125.50,533.83 126.00,533.45 126.50,533.05 127.00,532.63 127.50,532.18 128.00,531.70 128.50,531.19 129.00,530.66 129.50,530.10 130.00,529.51 130.50,528.88 131.00,528.22 131.50,527.53 132.00,526.80 132.50,526.04 133.00,525.24 133.50,524.40 134.00,523.52 134.50,522.60 135.00,521.64 135.50,520.64 136.00,519.59 136.50,518.50 137.00,517.37 137.50,516.19 138.00,514.96 138.50,513.69 139.00,512.37 139.50,511.00 140.00,509.58 140.50,508.12 141.00,506.60 141.50,505.04 142.00,503.43 142.50,501.78 143.00,500.07 143.50,498.32 144.00,496.52 144.50,494.68 145.00,492.79 145.50,490.85 146.00,488.88 146.50,486.86 147.00,484.80 147.50,482.70 148.00,480.57 148.50,478.40 149.00,476.20 149.50,473.96 150.00,471.70 150.50,469.42 151.00,467.11 151.50,464.78 152.00,462.43 152.50,460.07 153.00,457.70 153.50,455.32 154.00,452.93 154.50,450.55 155.00,448.16 155.50,445.79 156.00,443.42 156.50,441.07 157.00,438.74 157.50,436.42 158.00,434.14 158.50,431.89 159.00,429.67 159.50,427.48 160.00,425.35 160.50,423.25 161.00,421.21 161.50,419.23 162.00,417.30 162.50,415.44 163.00,413.64 163.50,411.91 164.00,410.26 164.50,408.68 165.00,407.19 165.50,405.77 166.00,404.45 166.50,403.22 167.00,402.07 167.50,401.03 168.00,400.08 168.50,399.23 169.00,398.48 169.50,397.83 170.00,397.29 170.50,396.86 171.00,396.53 171.50,396.31 172.00,396.20 172.50,396.19 173.00,396.30 173.50,396.51 174.00,396.83 174.50,397.25 175.00,397.79 175.50,398.42 176.00,399.16 176.50,400.01 177.00,400.95 177.50,401.99 178.00,403.12 178.50,404.35 179.00,405.66 179.50,407.07 180.00,408.56 180.50,410.13 181.00,411.78 181.50,413.50 182.00,415.29 182.50,417.15 183.00,419.07 183.50,421.05 184.00,423.09 184.50,425.18 185.00,427.31 185.50,429.49 186.00,431.71 186.50,433.96 187.00,436.24 187.50,438.55 188.00,440.88 188.50,443.23 189.00,445.60 189.50,447.97 190.00,450.36 190.50,452.74 191.00,455.13 191.50,457.51 192.00,459.88 192.50,462.24 193.00,464.59 193.50,466.92 194.00,469.23 194.50,471.52 195.00,473.78 195.50,476.02 196.00,478.22 196.50,480.39 197.00,482.53 197.50,484.63 198.00,486.69 198.50,488.72 199.00,490.70 199.50,492.63 200.00,494.53 200.50,496.37 201.00,498.18 201.50,499.93 202.00,501.64 202.50,503.30 203.00,504.92 203.50,506.48 204.00,508.00 204.50,509.47 205.00,510.89 205.50,512.26 206.00,513.58 206.50,514.86 207.00,516.09 207.50,517.28 208.00,518.41 208.50,519.51 209.00,520.56 209.50,521.56 210.00,522.53 210.50,523.45 211.00,524.33 211.50,525.17 212.00,525.98 212.50,526.74 213.00,527.47 213.50,528.17 214.00,528.83 214.50,529.46 215.00,530.05 215.50,530.62 216.00,531.15 216.50,531.66 217.00,532.14 217.50,532.59 218.00,533.02 218.50,533.42 219.00,533.80 219.50,534.16 220.00,534.50 220.50,534.81 221.00,535.11 221.50,535.39 222.00,535.65 222.50,535.89 223.00,536.12 223.50,536.34 224.00,536.54 224.50,536.72 225.00,536.90 225.50,537.06 226.00,537.21 226.50,537.35 227.00,537.48 227.50,537.60 228.00,537.72 228.50,537.82 229.00,537.92 229.50,538.01 230.00,538.09 230.50,538.17 231.00,538.24 231.50,538.30 232.00,538.36 232.50,538.42 233.00,538.47 233.50,538.52 234.00,538.56 234.50,538.60 235.00,538.64 235.50,538.67 236.00,538.70 236.50,538.73 237.00,538.75 237.50,538.78 238.00,538.80 238.50,538.82 239.00,538.83 239.50,538.85 240.00,538.86" stroke="#4a96e0" stroke-width="1.2"/>
<polyline points="100.00,537.84 100.50,537.83 101.00,537.82 101.50,537.80 102.00,537.79 102.50,537.78 103.00,537.76 103.50,537.75 104.00,537.74 104.50,537.72 105.00,537.71 105.50,537.70 106.00,537.68 106.50,537.67 107.00,537.65 107.50,537.64 108.00,537.62 108.50,537.61 109.00,537.59 109.50,537.58 110.00,537.56 110.50,537.54 111.00,537.53 111.50,537.51 112.00,537.49 112.50,537.47 113.00,537.46 113.50,537.44 114.00,537.42 114.50,537.40 115.00,537.38 115.50,537.36 116.00,537.34 116.50,537.32 117.00,537.30 117.50,537.28 118.00,537.26 118.50,537.23 119.00,537.21 119.50,537.19 120.00,537.17 120.50,537.14 121.00,537.12 121.50,537.09 122.00,537.07 122.50,537.04 123.00,537.02 123.50,536.99 124.00,536.96 124.50,536.93 125.00,536.91 125.50,536.88 126.00,536.85 126.50,536.82 127.00,536.79 127.50,536.76 128.00,536.72 128.50,536.69 129.00,536.66 129.50,536.62 130.00,536.59 130.50,536.55 131.00,536.52 131.50,536.48 132.00,536.44 132.50,536.40 133.00,536.36 133.50,536.32 134.00,536.28 134.50,536.24 135.00,536.20 135.50,536.15 136.00,536.11 136.50,536.06 137.00,536.01 137.50,535.96 138.00,535.91 138.50,535.86 139.00,535.81 139.50,535.75 140.00,535.70 140.50,535.64 141.00,535.58 141.50,535.52 142.00,535.46 142.50,535.40 143.00,535.33 143.50,535.26 144.00,535.20 144.50,535.12 145.00,535.05 145.50,534.98 146.00,534.90 146.50,534.82 147.00,534.74 147.50,534.65 148.00,534.56 148.50,534.47 149.00,534.38 149.50,534.28 150.00,534.18 150.50,534.07 151.00,533.97 151.50,533.85 152.00,533.74 152.50,533.61 153.00,533.49 153.50,533.36 154.00,533.22 154.50,533.08 155.00,532.93 155.50,532.78 156.00,532.62 156.50,532.45 157.00,532.28 157.50,532.10 158.00,531.91 158.50,531.71 159.00,531.50 159.50,531.28 160.00,531.06 160.50,530.82 161.00,530.57 161.50,530.31 162.00,530.04 162.50,529.76 163.00,529.46 163.50,529.15 164.00,528.82 164.50,528.48 165.00,528.13 165.50,527.75 166.00,527.37 166.50,526.96 167.00,526.53 167.50,526.09 168.00,525.62 168.50,525.14 169.00,524.64 169.50,524.11 170.00,523.56 170.50,522.99 171.00,522.39 171.50,521.77 172.00,521.13 172.50,520.46 173.00,519.77 173.50,519.05 174.00,518.30 174.50,517.53 175.00,516.73 175.50,515.90 176.00,515.04 176.50,514.16 177.00,513.25 177.50,512.32 178.00,511.36 178.50,510.37 179.00,509.36 179.50,508.32 180.00,507.26 180.50,506.17 181.00,505.06 181.50,503.94 182.00,502.80 182.50,501.64 183.00,500.46 183.50,499.28 184.00,498.09 184.50,496.90 185.00,495.71 185.50,494.52 186.00,493.34 186.50,492.18 187.00,491.04 187.50,489.92 188.00,488.83 188.50,487.79 189.00,486.79 189.50,485.84 190.00,484.95 190.50,484.13 191.00,483.38 191.50,482.71 192.00,482.13 192.50,481.64 193.00,481.24 193.50,480.94 194.00,480.75 194.50,480.66 195.00,480.67 195.50,480.79 196.00,481.02 196.50,481.34 197.00,481.77 197.50,482.28 198.00,482.89 198.50,483.58 199.00,484.35 199.50,485.19 200.00,486.10 200.50,487.06 201.00,488.08 201.50,489.13 202.00,490.23 202.50,491.35 203.00,492.50 203.50,493.67 204.00,494.85 204.50,496.04 205.00,497.23 205.50,498.43 206.00,499.61 206.50,500.79 207.00,501.96 207.50,503.12 208.00,504.26 208.50,505.38 209.00,506.48 209.50,507.55 210.00,508.61 210.50,509.64 211.00,510.65 211.50,511.63 212.00,512.58 212.50,513.51 213.00,514.41 213.50,515.29 214.00,516.13 214.50,516.95 215.00,517.75 215.50,518.51 216.00,519.25 216.50,519.96 217.00,520.65 217.50,521.31 218.00,521.95 218.50,522.56 219.00,523.15 219.50,523.72 220.00,524.26 220.50,524.78 221.00,525.28 221.50,525.76 222.00,526.22 222.50,526.65 223.00,527.07 223.50,527.48 224.00,527.86 224.50,528.23 225.00,528.58 225.50,528.92 226.00,529.24 226.50,529.54 227.00,529.84 227.50,530.12 228.00,530.39 228.50,530.64 229.00,530.89 229.50,531.12 230.00,531.35 230.50,531.56 231.00,531.76 231.50,531.96 232.00,532.15 232.50,532.33 233.00,532.50 233.50,532.66 234.00,532.82 234.50,532.97 235.00,533.12 235.50,533.26 236.00,533.40 236.50,533.52 237.00,533.65 237.50,533.77 238.00,533.88 238.50,534.00 239.00,534.10 239.50,534.21 240.00,534.31 240.50,534.40 241.00,534.50 241.50,534.59 242.00,534.67 242.50,534.76 243.00,534.84 243.50,534.92 244.00,535.00 244.50,535.07 245.00,535.14 245.50,535.22 246.00,535.28 246.50,535.35 247.00,535.42 247.50,535.48 248.00,535.54 248.50,535.60 249.00,535.66 249.50,535.71 250.00,535.77 250.50,535.82 251.00,535.88 251.50,535.93 252.00,535.98 252.50,536.02 253.00,536.07 253.50,536.12 254.00,536.16 254.50,536.21 255.00,536.25 255.50,536.29 256.00,536.33 256.50,536.38 257.00,536.41 257.50,536.45 258.00,536.49 258.50,536.53 259.00,536.56 259.50,536.60 260.00,536.63 260.50,536.67 261.00,536.70 261.50,536.73 262.00,536.77 262.50,536.80 263.00,536.83 263.50,536.86 264.00,536.89 264.50,536.91 265.00,536.94 265.50,536.97 266.00,537.00 266.50,537.02 267.00,537.05 267.50,537.08 268.00,537.10 268.50,537.12 269.00,537.15 269.50,537.17 270.00,537.20" stroke="#ff40ff" stroke-width="1.2"/>
</g>
<text x="61.56" y="367.5" font-size="18.5" textLength="42.26" lengthAdjust="spacing">Si 2p</text>
<line x1="79.5" y1="538.3" x2="84" y2="538.3" stroke="#d01818" stroke-width="2" stroke-linecap="round"/>
<line x1="88" y1="538.3" x2="92.5" y2="538.3" stroke="#d01818" stroke-width="2" stroke-linecap="round"/>
<line x1="264.5" y1="538.6" x2="283.5" y2="538.6" stroke="#e02020" stroke-width="1.6"/>
<line x1="57" y1="547.2" x2="57" y2="548.8" stroke="#ffffff" stroke-width="2.4"/>
<line x1="324" y1="547.2" x2="324" y2="548.8" stroke="#ffffff" stroke-width="2.4"/>
<text x="215.76" y="385.5" font-size="18.5" textLength="39.10" lengthAdjust="spacing">Si-O</text>
<text x="239.06" y="478.3" font-size="18.5" textLength="36.56" lengthAdjust="spacing">Si-C</text>
<line x1="212.6" y1="384" x2="185.89" y2="397.13" stroke="#4a96e0" stroke-width="1.2"/>
<polygon points="182.30,398.90 185.82,394.72 187.76,398.67" fill="#4a96e0"/>
<line x1="235.2" y1="474.8" x2="212.07" y2="484.81" stroke="#ff40ff" stroke-width="1.2"/>
<polygon points="208.40,486.40 212.11,482.39 213.86,486.43" fill="#ff40ff"/>
<g fill="none" stroke-linejoin="round">
<polyline points="399.00,528.08 399.50,528.07 400.00,528.07 400.50,528.06 401.00,528.06 401.50,528.05 402.00,528.05 402.50,528.04 403.00,528.03 403.50,528.03 404.00,528.02 404.50,528.02 405.00,528.01 405.50,528.00 406.00,528.00 406.50,527.99 407.00,527.99 407.50,527.98 408.00,527.97 408.50,527.97 409.00,527.96 409.50,527.95 410.00,527.94 410.50,527.94 411.00,527.93 411.50,527.92 412.00,527.92 412.50,527.91 413.00,527.90 413.50,527.89 414.00,527.89 414.50,527.88 415.00,527.87 415.50,527.86 416.00,527.85 416.50,527.85 417.00,527.84 417.50,527.83 418.00,527.82 418.50,527.81 419.00,527.80 419.50,527.79 420.00,527.79 420.50,527.78 421.00,527.77 421.50,527.76 422.00,527.75 422.50,527.74 423.00,527.73 423.50,527.72 424.00,527.71 424.50,527.70 425.00,527.69 425.50,527.68 426.00,527.67 426.50,527.66 427.00,527.65 427.50,527.63 428.00,527.62 428.50,527.61 429.00,527.60 429.50,527.59 430.00,527.58 430.50,527.56 431.00,527.55 431.50,527.54 432.00,527.53 432.50,527.51 433.00,527.50 433.50,527.49 434.00,527.48 434.50,527.46 435.00,527.45 435.50,527.43 436.00,527.42 436.50,527.41 437.00,527.39 437.50,527.38 438.00,527.36 438.50,527.35 439.00,527.33 439.50,527.31 440.00,527.30 440.50,527.28 441.00,527.26 441.50,527.25 442.00,527.23 442.50,527.21 443.00,527.20 443.50,527.18 444.00,527.16 444.50,527.14 445.00,527.12 445.50,527.10 446.00,527.08 446.50,527.06 447.00,527.04 447.50,527.02 448.00,527.00 448.50,526.98 449.00,526.96 449.50,526.93 450.00,526.91 450.50,526.89 451.00,526.87 451.50,526.84 452.00,526.82 452.50,526.79 453.00,526.77 453.50,526.74 454.00,526.72 454.50,526.69 455.00,526.66 455.50,526.63 456.00,526.61 456.50,526.58 457.00,526.55 457.50,526.52 458.00,526.49 458.50,526.46 459.00,526.42 459.50,526.39 460.00,526.36 460.50,526.32 461.00,526.29 461.50,526.25 462.00,526.22 462.50,526.18 463.00,526.14 463.50,526.11 464.00,526.07 464.50,526.03 465.00,525.98 465.50,525.94 466.00,525.90 466.50,525.85 467.00,525.81 467.50,525.76 468.00,525.71 468.50,525.66 469.00,525.61 469.50,525.56 470.00,525.51 470.50,525.45 471.00,525.40 471.50,525.34 472.00,525.28 472.50,525.21 473.00,525.15 473.50,525.08 474.00,525.01 474.50,524.94 475.00,524.86 475.50,524.79 476.00,524.70 476.50,524.62 477.00,524.53 477.50,524.43 478.00,524.34 478.50,524.23 479.00,524.13 479.50,524.01 480.00,523.89 480.50,523.76 481.00,523.63 481.50,523.49 482.00,523.33 482.50,523.17 483.00,523.00 483.50,522.82 484.00,522.63 484.50,522.42 485.00,522.21 485.50,521.97 486.00,521.72 486.50,521.46 487.00,521.17 487.50,520.87 488.00,520.54 488.50,520.19 489.00,519.82 489.50,519.43 490.00,519.00 490.50,518.55 491.00,518.06 491.50,517.55 492.00,517.00 492.50,516.41 493.00,515.78 493.50,515.11 494.00,514.40 494.50,513.65 495.00,512.84 495.50,511.99 496.00,511.09 496.50,510.13 497.00,509.11 497.50,508.04 498.00,506.91 498.50,505.71 499.00,504.45 499.50,503.12 500.00,501.72 500.50,500.25 501.00,498.71 501.50,497.10 502.00,495.41 502.50,493.65 503.00,491.80 503.50,489.88 504.00,487.89 504.50,485.81 505.00,483.65 505.50,481.41 506.00,479.10 506.50,476.71 507.00,474.24 507.50,471.69 508.00,469.08 508.50,466.38 509.00,463.62 509.50,460.80 510.00,457.91 510.50,454.96 511.00,451.95 511.50,448.89 512.00,445.79 512.50,442.64 513.00,439.45 513.50,436.23 514.00,432.99 514.50,429.73 515.00,426.46 515.50,423.18 516.00,419.91 516.50,416.65 517.00,413.42 517.50,410.21 518.00,407.05 518.50,403.94 519.00,400.90 519.50,397.93 520.00,395.05 520.50,392.26 521.00,389.59 521.50,387.03 522.00,384.61 522.50,382.33 523.00,380.20 523.50,378.22 524.00,376.41 524.50,374.76 525.00,373.29 525.50,371.98 526.00,370.84 526.50,369.87 527.00,369.06 527.50,368.43 528.00,367.96 528.50,367.65 529.00,367.51 529.50,367.54 530.00,367.74 530.50,368.13 531.00,368.70 531.50,369.46 532.00,370.43 532.50,371.61 533.00,373.00 533.50,374.61 534.00,376.44 534.50,378.49 535.00,380.75 535.50,383.23 536.00,385.90 536.50,388.76 537.00,391.80 537.50,394.99 538.00,398.32 538.50,401.76 539.00,405.31 539.50,408.94 540.00,412.63 540.50,416.36 541.00,420.12 541.50,423.89 542.00,427.65 542.50,431.40 543.00,435.11 543.50,438.78 544.00,442.39 544.50,445.95 545.00,449.43 545.50,452.84 546.00,456.17 546.50,459.41 547.00,462.56 547.50,465.61 548.00,468.57 548.50,471.42 549.00,474.18 549.50,476.84 550.00,479.39 550.50,481.84 551.00,484.19 551.50,486.43 552.00,488.58 552.50,490.63 553.00,492.59 553.50,494.45 554.00,496.21 554.50,497.89 555.00,499.48 555.50,500.99 556.00,502.42 556.50,503.76 557.00,505.04 557.50,506.24 558.00,507.37 558.50,508.43 559.00,509.43 559.50,510.37 560.00,511.25 560.50,512.08 561.00,512.86 561.50,513.59 562.00,514.27 562.50,514.92 563.00,515.52 563.50,516.08 564.00,516.60 564.50,517.10 565.00,517.56 565.50,517.99 566.00,518.40 566.50,518.78 567.00,519.14 567.50,519.47 568.00,519.79 568.50,520.08 569.00,520.36 569.50,520.62 570.00,520.87 570.50,521.10 571.00,521.33 571.50,521.53 572.00,521.73 572.50,521.92 573.00,522.10 573.50,522.27 574.00,522.43 574.50,522.58 575.00,522.73 575.50,522.87 576.00,523.01 576.50,523.13 577.00,523.26 577.50,523.38 578.00,523.49 578.50,523.60 579.00,523.71 579.50,523.81 580.00,523.91 580.50,524.01 581.00,524.10 581.50,524.19 582.00,524.27 582.50,524.36 583.00,524.44 583.50,524.52 584.00,524.60 584.50,524.67 585.00,524.74 585.50,524.81 586.00,524.88 586.50,524.95 587.00,525.01 587.50,525.08 588.00,525.14 588.50,525.20 589.00,525.26 589.50,525.32 590.00,525.37 590.50,525.43 591.00,525.48 591.50,525.53 592.00,525.58 592.50,525.63 593.00,525.68 593.50,525.73 594.00,525.78 594.50,525.82 595.00,525.87 595.50,525.91 596.00,525.95 596.50,525.99 597.00,526.03 597.50,526.07 598.00,526.11 598.50,526.15 599.00,526.19 599.50,526.23 600.00,526.26 600.50,526.30 601.00,526.33 601.50,526.36 602.00,526.40 602.50,526.43 603.00,526.46 603.50,526.49 604.00,526.52 604.50,526.55 605.00,526.58 605.50,526.61 606.00,526.64 606.50,526.67 607.00,526.69 607.50,526.72 608.00,526.75 608.50,526.77 609.00,526.80 609.50,526.82 610.00,526.85 610.50,526.87 611.00,526.89 611.50,526.92 612.00,526.94 612.50,526.96 613.00,526.98 613.50,527.00 614.00,527.03 614.50,527.05 615.00,527.07 615.50,527.09 616.00,527.11 616.50,527.13 617.00,527.14 617.50,527.16 618.00,527.18 618.50,527.20 619.00,527.22 619.50,527.23 620.00,527.25 620.50,527.27 621.00,527.28 621.50,527.30 622.00,527.32 622.50,527.33 623.00,527.35 623.50,527.36 624.00,527.38 624.50,527.39 625.00,527.41 625.50,527.42 626.00,527.44 626.50,527.45 627.00,527.46 627.50,527.48 628.00,527.49 628.50,527.50 629.00,527.52 629.50,527.53 630.00,527.54 630.50,527.56 631.00,527.57 631.50,527.58 632.00,527.59 632.50,527.60 633.00,527.61 633.50,527.63 634.00,527.64 634.50,527.65 635.00,527.66 635.50,527.67 636.00,527.68 636.50,527.69 637.00,527.70 637.50,527.71 638.00,527.72 638.50,527.73 639.00,527.74 639.50,527.75 640.00,527.76 640.50,527.77 641.00,527.78 641.50,527.79 642.00,527.80 642.50,527.80 643.00,527.81 643.50,527.82 644.00,527.83 644.50,527.84 645.00,527.85 645.50,527.86 646.00,527.86 646.50,527.87 647.00,527.88 647.50,527.89 648.00,527.89 648.50,527.90 649.00,527.91 649.50,527.92 650.00,527.92 650.50,527.93 651.00,527.94 651.50,527.95 652.00,527.95 652.50,527.96 653.00,527.97 653.50,527.97 654.00,527.98 654.50,527.99 655.00,527.99 655.50,528.00 656.00,528.01 656.50,528.01 657.00,528.02 657.50,528.02 658.00,528.03 658.50,528.04 659.00,528.04 659.50,528.05 660.00,528.05 660.50,528.06 661.00,528.06 661.50,528.07 662.00,528.08 662.50,528.08 663.00,528.09 663.50,528.09 664.00,528.10 664.50,528.10 665.00,528.11 665.50,528.11" stroke="#2a2a2a" stroke-width="1.3"/>
<polyline points="462.00,526.22 462.50,526.18 463.00,526.14 463.50,526.11 464.00,526.07 464.50,526.03 465.00,525.98 465.50,525.94 466.00,525.90 466.50,525.85 467.00,525.81 467.50,525.76 468.00,525.71 468.50,525.66 469.00,525.61 469.50,525.56 470.00,525.51 470.50,525.45 471.00,525.40 471.50,525.34 472.00,525.28 472.50,525.21 473.00,525.15 473.50,525.08 474.00,525.01 474.50,524.94 475.00,524.86 475.50,524.79 476.00,524.70 476.50,524.62 477.00,524.53 477.50,524.43 478.00,524.34 478.50,524.23 479.00,524.13 479.50,524.01 480.00,523.89 480.50,523.76 481.00,523.63 481.50,523.49 482.00,523.33 482.50,523.17 483.00,523.00 483.50,522.82 484.00,522.63 484.50,522.42 485.00,522.21 485.50,521.97 486.00,521.72 486.50,521.46 487.00,521.17 487.50,520.87 488.00,520.54 488.50,520.19 489.00,519.82 489.50,519.43 490.00,519.00 490.50,518.55 491.00,518.06 491.50,517.55 492.00,517.00 492.50,516.41 493.00,515.78 493.50,515.11 494.00,514.40 494.50,513.65 495.00,512.84 495.50,511.99 496.00,511.09 496.50,510.13 497.00,509.11 497.50,508.04 498.00,506.91 498.50,505.71 499.00,504.45 499.50,503.12 500.00,501.72 500.50,500.25 501.00,498.71 501.50,497.10 502.00,495.41 502.50,493.65 503.00,491.80 503.50,489.88 504.00,487.89 504.50,485.81 505.00,483.65 505.50,481.41 506.00,479.10 506.50,476.71 507.00,474.24 507.50,471.69 508.00,469.08 508.50,466.38 509.00,463.62 509.50,460.80 510.00,457.91 510.50,454.96 511.00,451.95 511.50,448.89 512.00,445.79 512.50,442.64 513.00,439.45 513.50,436.23 514.00,432.99 514.50,429.73 515.00,426.46 515.50,423.18 516.00,419.91 516.50,416.65 517.00,413.42 517.50,410.21 518.00,407.05 518.50,403.94 519.00,400.90 519.50,397.93 520.00,395.05 520.50,392.26 521.00,389.59 521.50,387.03 522.00,384.61 522.50,382.33 523.00,380.20 523.50,378.22 524.00,376.41 524.50,374.76 525.00,373.29 525.50,371.98 526.00,370.84 526.50,369.87 527.00,369.06 527.50,368.43 528.00,367.96 528.50,367.65 529.00,367.51 529.50,367.54 530.00,367.74 530.50,368.13 531.00,368.70 531.50,369.46 532.00,370.43 532.50,371.61 533.00,373.00 533.50,374.61 534.00,376.44 534.50,378.49 535.00,380.75 535.50,383.23 536.00,385.90 536.50,388.76 537.00,391.80 537.50,394.99 538.00,398.32 538.50,401.76 539.00,405.31 539.50,408.94 540.00,412.63 540.50,416.36 541.00,420.12 541.50,423.89 542.00,427.65 542.50,431.40 543.00,435.11 543.50,438.78 544.00,442.39 544.50,445.95 545.00,449.43 545.50,452.84 546.00,456.17 546.50,459.41 547.00,462.56 547.50,465.61 548.00,468.57 548.50,471.42 549.00,474.18 549.50,476.84 550.00,479.39 550.50,481.84 551.00,484.19 551.50,486.43 552.00,488.58 552.50,490.63 553.00,492.59 553.50,494.45 554.00,496.21 554.50,497.89 555.00,499.48 555.50,500.99 556.00,502.42 556.50,503.76 557.00,505.04 557.50,506.24 558.00,507.37 558.50,508.43 559.00,509.43 559.50,510.37 560.00,511.25 560.50,512.08 561.00,512.86 561.50,513.59 562.00,514.27 562.50,514.92 563.00,515.52 563.50,516.08 564.00,516.60 564.50,517.10 565.00,517.56 565.50,517.99 566.00,518.40 566.50,518.78 567.00,519.14 567.50,519.47 568.00,519.79 568.50,520.08 569.00,520.36 569.50,520.62 570.00,520.87 570.50,521.10 571.00,521.33 571.50,521.53 572.00,521.73 572.50,521.92 573.00,522.10 573.50,522.27 574.00,522.43 574.50,522.58 575.00,522.73 575.50,522.87 576.00,523.01 576.50,523.13 577.00,523.26 577.50,523.38 578.00,523.49 578.50,523.60 579.00,523.71 579.50,523.81 580.00,523.91 580.50,524.01 581.00,524.10 581.50,524.19 582.00,524.27 582.50,524.36 583.00,524.44 583.50,524.52 584.00,524.60 584.50,524.67 585.00,524.74 585.50,524.81 586.00,524.88 586.50,524.95 587.00,525.01 587.50,525.08 588.00,525.14 588.50,525.20 589.00,525.26 589.50,525.32 590.00,525.37 590.50,525.43 591.00,525.48 591.50,525.53 592.00,525.58 592.50,525.63 593.00,525.68 593.50,525.73 594.00,525.78 594.50,525.82 595.00,525.87 595.50,525.91 596.00,525.95 596.50,525.99 597.00,526.03 597.50,526.07 598.00,526.11 598.50,526.15 599.00,526.19 599.50,526.23 600.00,526.26 600.50,526.30 601.00,526.33 601.50,526.36 602.00,526.40 602.50,526.43 603.00,526.46 603.50,526.49 604.00,526.52 604.50,526.55 605.00,526.58 605.50,526.61 606.00,526.64 606.50,526.67 607.00,526.69 607.50,526.72 608.00,526.75 608.50,526.77 609.00,526.80 609.50,526.82 610.00,526.85 610.50,526.87 611.00,526.89 611.50,526.92 612.00,526.94 612.50,526.96 613.00,526.98 613.50,527.00 614.00,527.03 614.50,527.05 615.00,527.07 615.50,527.09 616.00,527.11 616.50,527.13 617.00,527.14 617.50,527.16 618.00,527.18 618.50,527.20 619.00,527.22 619.50,527.23 620.00,527.25 620.50,527.27 621.00,527.28 621.50,527.30 622.00,527.32 622.50,527.33 623.00,527.35 623.50,527.36 624.00,527.38 624.50,527.39 625.00,527.41 625.50,527.42 626.00,527.44 626.50,527.45 627.00,527.46 627.50,527.48 628.00,527.49 628.50,527.50 629.00,527.52 629.50,527.53 630.00,527.54 630.50,527.56 631.00,527.57 631.50,527.58 632.00,527.59 632.50,527.60 633.00,527.61 633.50,527.63 634.00,527.64 634.50,527.65 635.00,527.66 635.50,527.67 636.00,527.68 636.50,527.69 637.00,527.70 637.50,527.71 638.00,527.72 638.50,527.73 639.00,527.74 639.50,527.75 640.00,527.76" stroke="#ff2020" stroke-width="1.3" stroke-dasharray="2.5 2.5"/>
<line x1="452" y1="529.5" x2="637" y2="529.5" stroke="#e2de50" stroke-width="1.5"/>
<polyline points="470.00,527.93 470.50,527.90 471.00,527.88 471.50,527.85 472.00,527.82 472.50,527.80 473.00,527.76 473.50,527.73 474.00,527.70 474.50,527.66 475.00,527.63 475.50,527.59 476.00,527.54 476.50,527.50 477.00,527.45 477.50,527.40 478.00,527.34 478.50,527.29 479.00,527.22 479.50,527.16 480.00,527.08 480.50,527.01 481.00,526.92 481.50,526.83 482.00,526.74 482.50,526.63 483.00,526.52 483.50,526.40 484.00,526.26 484.50,526.12 485.00,525.97 485.50,525.80 486.00,525.62 486.50,525.42 487.00,525.21 487.50,524.98 488.00,524.73 488.50,524.46 489.00,524.18 489.50,523.87 490.00,523.53 490.50,523.17 491.00,522.78 491.50,522.37 492.00,521.92 492.50,521.44 493.00,520.93 493.50,520.38 494.00,519.80 494.50,519.17 495.00,518.51 495.50,517.80 496.00,517.04 496.50,516.24 497.00,515.40 497.50,514.50 498.00,513.55 498.50,512.55 499.00,511.50 499.50,510.39 500.00,509.23 500.50,508.00 501.00,506.73 501.50,505.39 502.00,503.99 502.50,502.54 503.00,501.03 503.50,499.46 504.00,497.83 504.50,496.15 505.00,494.41 505.50,492.62 506.00,490.77 506.50,488.88 507.00,486.94 507.50,484.96 508.00,482.93 508.50,480.87 509.00,478.77 509.50,476.64 510.00,474.49 510.50,472.31 511.00,470.12 511.50,467.93 512.00,465.72 512.50,463.52 513.00,461.33 513.50,459.15 514.00,456.99 514.50,454.86 515.00,452.77 515.50,450.72 516.00,448.72 516.50,446.78 517.00,444.91 517.50,443.11 518.00,441.39 518.50,439.76 519.00,438.23 519.50,436.80 520.00,435.49 520.50,434.29 521.00,433.22 521.50,432.27 522.00,431.47 522.50,430.80 523.00,430.28 523.50,429.90 524.00,429.68 524.50,429.60 525.00,429.68 525.50,429.90 526.00,430.28 526.50,430.80 527.00,431.47 527.50,432.27 528.00,433.22 528.50,434.29 529.00,435.49 529.50,436.80 530.00,438.23 530.50,439.76 531.00,441.39 531.50,443.11 532.00,444.91 532.50,446.78 533.00,448.72 533.50,450.72 534.00,452.77 534.50,454.86 535.00,456.99 535.50,459.15 536.00,461.33 536.50,463.52 537.00,465.72 537.50,467.93 538.00,470.12 538.50,472.31 539.00,474.49 539.50,476.64 540.00,478.77 540.50,480.87 541.00,482.93 541.50,484.96 542.00,486.94 542.50,488.88 543.00,490.77 543.50,492.62 544.00,494.41 544.50,496.15 545.00,497.83 545.50,499.46 546.00,501.03 546.50,502.54 547.00,503.99 547.50,505.39 548.00,506.73 548.50,508.00 549.00,509.23 549.50,510.39 550.00,511.50 550.50,512.55 551.00,513.55 551.50,514.50 552.00,515.40 552.50,516.24 553.00,517.04 553.50,517.80 554.00,518.51 554.50,519.17 555.00,519.80 555.50,520.38 556.00,520.93 556.50,521.44 557.00,521.92 557.50,522.37 558.00,522.78 558.50,523.17 559.00,523.53 559.50,523.87 560.00,524.18 560.50,524.46 561.00,524.73 561.50,524.98 562.00,525.21 562.50,525.42 563.00,525.62 563.50,525.80 564.00,525.97 564.50,526.12 565.00,526.26 565.50,526.40 566.00,526.52 566.50,526.63 567.00,526.74 567.50,526.83 568.00,526.92 568.50,527.01 569.00,527.08 569.50,527.16 570.00,527.22 570.50,527.29 571.00,527.34 571.50,527.40 572.00,527.45 572.50,527.50 573.00,527.54 573.50,527.59 574.00,527.63 574.50,527.66 575.00,527.70" stroke="#4a96e0" stroke-width="1.2"/>
<polyline points="470.00,527.18 470.50,527.15 471.00,527.12 471.50,527.08 472.00,527.05 472.50,527.02 473.00,526.98 473.50,526.95 474.00,526.91 474.50,526.88 475.00,526.84 475.50,526.80 476.00,526.76 476.50,526.72 477.00,526.68 477.50,526.64 478.00,526.59 478.50,526.55 479.00,526.50 479.50,526.45 480.00,526.41 480.50,526.36 481.00,526.30 481.50,526.25 482.00,526.20 482.50,526.14 483.00,526.09 483.50,526.03 484.00,525.97 484.50,525.90 485.00,525.84 485.50,525.77 486.00,525.71 486.50,525.64 487.00,525.56 487.50,525.49 488.00,525.41 488.50,525.33 489.00,525.25 489.50,525.16 490.00,525.07 490.50,524.98 491.00,524.88 491.50,524.78 492.00,524.67 492.50,524.57 493.00,524.45 493.50,524.33 494.00,524.21 494.50,524.08 495.00,523.94 495.50,523.79 496.00,523.64 496.50,523.48 497.00,523.32 497.50,523.14 498.00,522.95 498.50,522.76 499.00,522.55 499.50,522.33 500.00,522.10 500.50,521.85 501.00,521.59 501.50,521.31 502.00,521.02 502.50,520.71 503.00,520.38 503.50,520.03 504.00,519.65 504.50,519.26 505.00,518.84 505.50,518.40 506.00,517.93 506.50,517.43 507.00,516.90 507.50,516.34 508.00,515.75 508.50,515.12 509.00,514.46 509.50,513.76 510.00,513.02 510.50,512.24 511.00,511.43 511.50,510.57 512.00,509.66 512.50,508.71 513.00,507.72 513.50,506.68 514.00,505.59 514.50,504.46 515.00,503.27 515.50,502.04 516.00,500.76 516.50,499.43 517.00,498.05 517.50,496.63 518.00,495.16 518.50,493.64 519.00,492.08 519.50,490.48 520.00,488.83 520.50,487.15 521.00,485.44 521.50,483.69 522.00,481.92 522.50,480.12 523.00,478.30 523.50,476.48 524.00,474.65 524.50,472.81 525.00,470.99 525.50,469.18 526.00,467.40 526.50,465.66 527.00,463.96 527.50,462.32 528.00,460.74 528.50,459.24 529.00,457.84 529.50,456.54 530.00,455.35 530.50,454.29 531.00,453.37 531.50,452.59 532.00,451.97 532.50,451.52 533.00,451.22 533.50,451.10 534.00,451.16 534.50,451.38 535.00,451.77 535.50,452.33 536.00,453.04 536.50,453.91 537.00,454.91 537.50,456.05 538.00,457.31 538.50,458.67 539.00,460.13 539.50,461.68 540.00,463.29 540.50,464.97 541.00,466.70 541.50,468.47 542.00,470.27 542.50,472.08 543.00,473.91 543.50,475.75 544.00,477.58 544.50,479.40 545.00,481.20 545.50,482.98 546.00,484.74 546.50,486.47 547.00,488.16 547.50,489.82 548.00,491.44 548.50,493.02 549.00,494.56 549.50,496.05 550.00,497.49 550.50,498.89 551.00,500.23 551.50,501.53 552.00,502.79 552.50,503.99 553.00,505.14 553.50,506.25 554.00,507.31 554.50,508.32 555.00,509.29 555.50,510.21 556.00,511.09 556.50,511.92 557.00,512.72 557.50,513.47 558.00,514.18 558.50,514.86 559.00,515.50 559.50,516.11 560.00,516.68 560.50,517.22 561.00,517.73 561.50,518.21 562.00,518.67 562.50,519.10 563.00,519.50 563.50,519.88 564.00,520.24 564.50,520.58 565.00,520.90 565.50,521.20 566.00,521.48 566.50,521.75 567.00,522.00 567.50,522.24 568.00,522.46 568.50,522.67 569.00,522.88 569.50,523.07 570.00,523.25 570.50,523.42 571.00,523.58 571.50,523.73 572.00,523.88 572.50,524.02 573.00,524.16 573.50,524.28 574.00,524.40 574.50,524.52 575.00,524.63 575.50,524.74 576.00,524.84 576.50,524.94 577.00,525.03 577.50,525.12 578.00,525.21 578.50,525.30 579.00,525.38 579.50,525.46 580.00,525.53 580.50,525.61 581.00,525.68 581.50,525.75 582.00,525.81 582.50,525.88 583.00,525.94 583.50,526.00 584.00,526.06 584.50,526.12 585.00,526.18 585.50,526.23 586.00,526.28 586.50,526.34 587.00,526.39 587.50,526.43 588.00,526.48 588.50,526.53 589.00,526.57 589.50,526.62 590.00,526.66 590.50,526.70 591.00,526.74 591.50,526.78 592.00,526.82 592.50,526.86 593.00,526.90 593.50,526.93 594.00,526.97 594.50,527.00 595.00,527.04 595.50,527.07 596.00,527.10 596.50,527.14 597.00,527.17 597.50,527.20 598.00,527.23 598.50,527.26 599.00,527.28 599.50,527.31 600.00,527.34" stroke="#ff40ff" stroke-width="1.2"/>
</g>
<text x="403.14" y="367.3" font-size="18.5" textLength="37.83" lengthAdjust="spacing">O 1s</text>
<line x1="402.8" y1="528.6" x2="406.2" y2="528.6" stroke="#e01818" stroke-width="2" stroke-linecap="round"/>
<line x1="597" y1="528.6" x2="603" y2="528.6" stroke="#e01818" stroke-width="2" stroke-linecap="round"/>
<line x1="644" y1="528.6" x2="649.5" y2="528.6" stroke="#e01818" stroke-width="2" stroke-linecap="round"/>
<line x1="655" y1="528.6" x2="657.5" y2="528.6" stroke="#e01818" stroke-width="2" stroke-linecap="round"/>
<text x="440.14" y="405.5" font-size="18.5" textLength="58.48" lengthAdjust="spacing">O-Si-C</text>
<text x="572.74" y="437.8" font-size="18.5" textLength="59.52" lengthAdjust="spacing">O-Si-O</text>
<line x1="481.8" y1="411.3" x2="511.92" y2="426.22" stroke="#4a96e0" stroke-width="1.2"/>
<polygon points="515.50,428.00 510.04,427.75 512.00,423.81" fill="#4a96e0"/>
<line x1="571" y1="441.1" x2="544.29" y2="450.03" stroke="#ff40ff" stroke-width="1.2"/>
<polygon points="540.50,451.30 544.54,447.63 545.94,451.80" fill="#ff40ff"/>
</svg>
</body></html>
